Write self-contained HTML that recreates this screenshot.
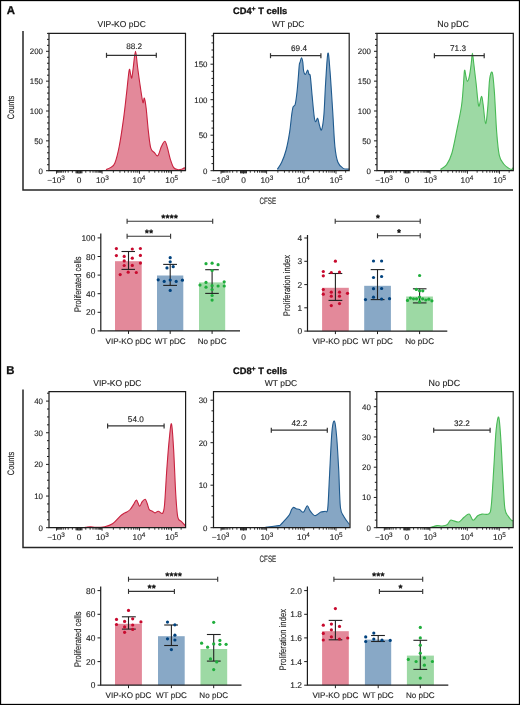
<!DOCTYPE html>
<html><head><meta charset="utf-8"><style>html,body{margin:0;padding:0;background:#fff}svg{display:block;will-change:transform}text{stroke:#222;stroke-width:0.12px;text-rendering:geometricPrecision}text[font-weight=bold]{stroke:#111;stroke-width:0.3px}</style></head>
<body><svg width="520" height="705" viewBox="0 0 520 705" font-family='"Liberation Sans", sans-serif'>
<rect x="0" y="0" width="520" height="705" fill="#fff"/>
<rect x="0.5" y="0.5" width="519" height="704" fill="none" stroke="#000" stroke-width="1.3"/>
<text x="6.8" y="14" font-size="11.4" text-anchor="start" font-weight="bold" fill="#111" >A</text>
<text x="233" y="14.4" font-size="9.3" font-weight="bold" fill="#111">CD4<tspan font-size="7" dy="-3.2">+</tspan><tspan dy="3.2"> T cells</tspan></text>
<path d="M23,31 L23,190 L513,190" fill="none" stroke="#262626" stroke-width="1.5"/>
<text x="0" y="0" font-size="9.4" text-anchor="middle" fill="#222" textLength="23.4" lengthAdjust="spacingAndGlyphs" transform="translate(14.3,107.5) rotate(-90)">Counts</text>
<text x="267.8" y="203.8" font-size="9.2" text-anchor="middle" font-weight="normal" fill="#222" textLength="16.6" lengthAdjust="spacingAndGlyphs" >CFSE</text>
<path d="M106,169.7 C106.73,169.35 108.93,168.68 110.4,167.6 C111.87,166.52 113.33,166.72 114.8,163.2 C116.27,159.68 117.73,153.98 119.2,146.5 C120.67,139.02 122.35,127.38 123.6,118.3 C124.85,109.22 125.77,100.05 126.7,92 C127.63,83.95 128.55,72.93 129.2,70 C129.85,67.07 130.17,73.08 130.6,74.4 C131.03,75.72 131.35,79.08 131.8,77.9 C132.25,76.72 132.68,71.75 133.3,67.3 C133.92,62.85 134.78,51.2 135.5,51.2 C136.22,51.2 136.8,61.38 137.6,67.3 C138.4,73.22 139.42,80.83 140.3,86.7 C141.18,92.57 142.23,100.6 142.9,102.5 C143.57,104.4 143.77,97.22 144.3,98.1 C144.83,98.98 145.4,102.08 146.1,107.8 C146.8,113.52 147.72,125.67 148.5,132.4 C149.28,139.13 149.82,144.83 150.8,148.2 C151.78,151.57 153.22,151.37 154.4,152.6 C155.58,153.83 156.73,156.62 157.9,155.6 C159.07,154.58 160.23,148.9 161.4,146.5 C162.57,144.1 163.88,140.92 164.9,141.2 C165.92,141.48 166.62,145.27 167.5,148.2 C168.38,151.13 169.17,155.57 170.2,158.8 C171.23,162.03 172.38,165.78 173.7,167.6 C175.02,169.42 176.78,169.42 178.1,169.7 C179.42,169.98 180.58,169.6 181.6,169.3 C182.62,169 183.58,168.03 184.2,167.9 C184.82,167.77 185.12,168.4 185.3,168.5 L185.3,170.7 L106,170.7 Z" fill="#e3899a" stroke="none"/>
<path d="M106,169.7 C106.73,169.35 108.93,168.68 110.4,167.6 C111.87,166.52 113.33,166.72 114.8,163.2 C116.27,159.68 117.73,153.98 119.2,146.5 C120.67,139.02 122.35,127.38 123.6,118.3 C124.85,109.22 125.77,100.05 126.7,92 C127.63,83.95 128.55,72.93 129.2,70 C129.85,67.07 130.17,73.08 130.6,74.4 C131.03,75.72 131.35,79.08 131.8,77.9 C132.25,76.72 132.68,71.75 133.3,67.3 C133.92,62.85 134.78,51.2 135.5,51.2 C136.22,51.2 136.8,61.38 137.6,67.3 C138.4,73.22 139.42,80.83 140.3,86.7 C141.18,92.57 142.23,100.6 142.9,102.5 C143.57,104.4 143.77,97.22 144.3,98.1 C144.83,98.98 145.4,102.08 146.1,107.8 C146.8,113.52 147.72,125.67 148.5,132.4 C149.28,139.13 149.82,144.83 150.8,148.2 C151.78,151.57 153.22,151.37 154.4,152.6 C155.58,153.83 156.73,156.62 157.9,155.6 C159.07,154.58 160.23,148.9 161.4,146.5 C162.57,144.1 163.88,140.92 164.9,141.2 C165.92,141.48 166.62,145.27 167.5,148.2 C168.38,151.13 169.17,155.57 170.2,158.8 C171.23,162.03 172.38,165.78 173.7,167.6 C175.02,169.42 176.78,169.42 178.1,169.7 C179.42,169.98 180.58,169.6 181.6,169.3 C182.62,169 183.58,168.03 184.2,167.9 C184.82,167.77 185.12,168.4 185.3,168.5" fill="none" stroke="#c8223f" stroke-width="1.1" stroke-linejoin="round"/>
<path d="M49,170.7 L49,33.3 L185.5,33.3 L185.5,170.7 Z" fill="none" stroke="#1c1c1c" stroke-width="1.2"/>
<line x1="46" y1="170.7" x2="49" y2="170.7" stroke="#1c1c1c" stroke-width="1.0"/>
<text x="43" y="173.5" font-size="7.9" text-anchor="end" font-weight="normal" fill="#222" >0</text>
<line x1="47" y1="164.73" x2="49" y2="164.73" stroke="#1c1c1c" stroke-width="1.0"/>
<line x1="47" y1="158.76" x2="49" y2="158.76" stroke="#1c1c1c" stroke-width="1.0"/>
<line x1="47" y1="152.79" x2="49" y2="152.79" stroke="#1c1c1c" stroke-width="1.0"/>
<line x1="47" y1="146.82" x2="49" y2="146.82" stroke="#1c1c1c" stroke-width="1.0"/>
<line x1="46" y1="140.85" x2="49" y2="140.85" stroke="#1c1c1c" stroke-width="1.0"/>
<text x="43" y="143.65" font-size="7.9" text-anchor="end" font-weight="normal" fill="#222" >50</text>
<line x1="47" y1="134.88" x2="49" y2="134.88" stroke="#1c1c1c" stroke-width="1.0"/>
<line x1="47" y1="128.91" x2="49" y2="128.91" stroke="#1c1c1c" stroke-width="1.0"/>
<line x1="47" y1="122.94" x2="49" y2="122.94" stroke="#1c1c1c" stroke-width="1.0"/>
<line x1="47" y1="116.97" x2="49" y2="116.97" stroke="#1c1c1c" stroke-width="1.0"/>
<line x1="46" y1="111" x2="49" y2="111" stroke="#1c1c1c" stroke-width="1.0"/>
<text x="43" y="113.8" font-size="7.9" text-anchor="end" font-weight="normal" fill="#222" >100</text>
<line x1="47" y1="105.03" x2="49" y2="105.03" stroke="#1c1c1c" stroke-width="1.0"/>
<line x1="47" y1="99.06" x2="49" y2="99.06" stroke="#1c1c1c" stroke-width="1.0"/>
<line x1="47" y1="93.09" x2="49" y2="93.09" stroke="#1c1c1c" stroke-width="1.0"/>
<line x1="47" y1="87.12" x2="49" y2="87.12" stroke="#1c1c1c" stroke-width="1.0"/>
<line x1="46" y1="81.15" x2="49" y2="81.15" stroke="#1c1c1c" stroke-width="1.0"/>
<text x="43" y="83.95" font-size="7.9" text-anchor="end" font-weight="normal" fill="#222" >150</text>
<line x1="47" y1="75.18" x2="49" y2="75.18" stroke="#1c1c1c" stroke-width="1.0"/>
<line x1="47" y1="69.21" x2="49" y2="69.21" stroke="#1c1c1c" stroke-width="1.0"/>
<line x1="47" y1="63.24" x2="49" y2="63.24" stroke="#1c1c1c" stroke-width="1.0"/>
<line x1="47" y1="57.27" x2="49" y2="57.27" stroke="#1c1c1c" stroke-width="1.0"/>
<line x1="46" y1="51.3" x2="49" y2="51.3" stroke="#1c1c1c" stroke-width="1.0"/>
<text x="43" y="54.1" font-size="7.9" text-anchor="end" font-weight="normal" fill="#222" >200</text>
<line x1="47" y1="45.33" x2="49" y2="45.33" stroke="#1c1c1c" stroke-width="1.0"/>
<line x1="47" y1="39.36" x2="49" y2="39.36" stroke="#1c1c1c" stroke-width="1.0"/>
<line x1="47" y1="33.39" x2="49" y2="33.39" stroke="#1c1c1c" stroke-width="1.0"/>
<line x1="56.5" y1="170.7" x2="56.5" y2="173.7" stroke="#1c1c1c" stroke-width="0.9"/>
<line x1="79" y1="170.7" x2="79" y2="173.7" stroke="#1c1c1c" stroke-width="0.9"/>
<line x1="102.1" y1="170.7" x2="102.1" y2="173.7" stroke="#1c1c1c" stroke-width="0.9"/>
<line x1="139.5" y1="170.7" x2="139.5" y2="173.7" stroke="#1c1c1c" stroke-width="0.9"/>
<line x1="171.5" y1="170.7" x2="171.5" y2="173.7" stroke="#1c1c1c" stroke-width="0.9"/>
<line x1="113.36" y1="170.7" x2="113.36" y2="172.7" stroke="#1c1c1c" stroke-width="0.9"/>
<line x1="149.13" y1="170.7" x2="149.13" y2="172.7" stroke="#1c1c1c" stroke-width="0.9"/>
<line x1="119.94" y1="170.7" x2="119.94" y2="172.7" stroke="#1c1c1c" stroke-width="0.9"/>
<line x1="154.77" y1="170.7" x2="154.77" y2="172.7" stroke="#1c1c1c" stroke-width="0.9"/>
<line x1="124.62" y1="170.7" x2="124.62" y2="172.7" stroke="#1c1c1c" stroke-width="0.9"/>
<line x1="158.77" y1="170.7" x2="158.77" y2="172.7" stroke="#1c1c1c" stroke-width="0.9"/>
<line x1="128.24" y1="170.7" x2="128.24" y2="172.7" stroke="#1c1c1c" stroke-width="0.9"/>
<line x1="161.87" y1="170.7" x2="161.87" y2="172.7" stroke="#1c1c1c" stroke-width="0.9"/>
<line x1="131.2" y1="170.7" x2="131.2" y2="172.7" stroke="#1c1c1c" stroke-width="0.9"/>
<line x1="164.4" y1="170.7" x2="164.4" y2="172.7" stroke="#1c1c1c" stroke-width="0.9"/>
<line x1="133.71" y1="170.7" x2="133.71" y2="172.7" stroke="#1c1c1c" stroke-width="0.9"/>
<line x1="166.54" y1="170.7" x2="166.54" y2="172.7" stroke="#1c1c1c" stroke-width="0.9"/>
<line x1="135.88" y1="170.7" x2="135.88" y2="172.7" stroke="#1c1c1c" stroke-width="0.9"/>
<line x1="168.4" y1="170.7" x2="168.4" y2="172.7" stroke="#1c1c1c" stroke-width="0.9"/>
<line x1="137.79" y1="170.7" x2="137.79" y2="172.7" stroke="#1c1c1c" stroke-width="0.9"/>
<line x1="170.04" y1="170.7" x2="170.04" y2="172.7" stroke="#1c1c1c" stroke-width="0.9"/>
<line x1="181.13" y1="170.7" x2="181.13" y2="172.7" stroke="#1c1c1c" stroke-width="0.9"/>
<line x1="85.79" y1="170.7" x2="85.79" y2="172.7" stroke="#1c1c1c" stroke-width="0.9"/>
<line x1="72.39" y1="170.7" x2="72.39" y2="172.7" stroke="#1c1c1c" stroke-width="0.9"/>
<line x1="90.12" y1="170.7" x2="90.12" y2="172.7" stroke="#1c1c1c" stroke-width="0.9"/>
<line x1="68.17" y1="170.7" x2="68.17" y2="172.7" stroke="#1c1c1c" stroke-width="0.9"/>
<line x1="93.01" y1="170.7" x2="93.01" y2="172.7" stroke="#1c1c1c" stroke-width="0.9"/>
<line x1="65.35" y1="170.7" x2="65.35" y2="172.7" stroke="#1c1c1c" stroke-width="0.9"/>
<line x1="95.14" y1="170.7" x2="95.14" y2="172.7" stroke="#1c1c1c" stroke-width="0.9"/>
<line x1="63.28" y1="170.7" x2="63.28" y2="172.7" stroke="#1c1c1c" stroke-width="0.9"/>
<line x1="96.82" y1="170.7" x2="96.82" y2="172.7" stroke="#1c1c1c" stroke-width="0.9"/>
<line x1="61.65" y1="170.7" x2="61.65" y2="172.7" stroke="#1c1c1c" stroke-width="0.9"/>
<line x1="98.2" y1="170.7" x2="98.2" y2="172.7" stroke="#1c1c1c" stroke-width="0.9"/>
<line x1="60.3" y1="170.7" x2="60.3" y2="172.7" stroke="#1c1c1c" stroke-width="0.9"/>
<line x1="99.37" y1="170.7" x2="99.37" y2="172.7" stroke="#1c1c1c" stroke-width="0.9"/>
<line x1="59.16" y1="170.7" x2="59.16" y2="172.7" stroke="#1c1c1c" stroke-width="0.9"/>
<line x1="100.39" y1="170.7" x2="100.39" y2="172.7" stroke="#1c1c1c" stroke-width="0.9"/>
<line x1="58.16" y1="170.7" x2="58.16" y2="172.7" stroke="#1c1c1c" stroke-width="0.9"/>
<line x1="101.29" y1="170.7" x2="101.29" y2="172.7" stroke="#1c1c1c" stroke-width="0.9"/>
<line x1="57.29" y1="170.7" x2="57.29" y2="172.7" stroke="#1c1c1c" stroke-width="0.9"/>
<line x1="76" y1="170.7" x2="76" y2="173.3" stroke="#1c1c1c" stroke-width="0.9"/>
<line x1="76.8" y1="170.7" x2="76.8" y2="173.3" stroke="#1c1c1c" stroke-width="0.9"/>
<line x1="77.5" y1="170.7" x2="77.5" y2="173.3" stroke="#1c1c1c" stroke-width="0.9"/>
<line x1="78.2" y1="170.7" x2="78.2" y2="173.3" stroke="#1c1c1c" stroke-width="0.9"/>
<line x1="79.8" y1="170.7" x2="79.8" y2="173.3" stroke="#1c1c1c" stroke-width="0.9"/>
<line x1="80.5" y1="170.7" x2="80.5" y2="173.3" stroke="#1c1c1c" stroke-width="0.9"/>
<line x1="81.2" y1="170.7" x2="81.2" y2="173.3" stroke="#1c1c1c" stroke-width="0.9"/>
<line x1="82" y1="170.7" x2="82" y2="173.3" stroke="#1c1c1c" stroke-width="0.9"/>
<text x="56" y="183.2" font-size="8.3" text-anchor="middle" fill="#222">−10<tspan font-size="6.4" dy="-3.6" style="stroke-width:0.1px">3</tspan></text>
<text x="79" y="183.2" font-size="8.3" text-anchor="middle" font-weight="normal" fill="#222" >0</text>
<text x="102.3" y="183.2" font-size="8.3" text-anchor="middle" fill="#222">10<tspan font-size="6.4" dy="-3.6" style="stroke-width:0.1px">3</tspan></text>
<text x="139" y="183.2" font-size="8.3" text-anchor="middle" fill="#222">10<tspan font-size="6.4" dy="-3.6" style="stroke-width:0.1px">4</tspan></text>
<text x="171.7" y="183.2" font-size="8.3" text-anchor="middle" fill="#222">10<tspan font-size="6.4" dy="-3.6" style="stroke-width:0.1px">5</tspan></text>
<line x1="106.5" y1="55.3" x2="156.3" y2="55.3" stroke="#333" stroke-width="1.2"/>
<line x1="106.5" y1="52.8" x2="106.5" y2="57.8" stroke="#333" stroke-width="1.2"/>
<line x1="156.3" y1="52.8" x2="156.3" y2="57.8" stroke="#333" stroke-width="1.2"/>
<text x="134.1" y="48.7" font-size="8.2" text-anchor="middle" font-weight="normal" fill="#222" >88.2</text>
<text x="121.7" y="26.9" font-size="8.5" text-anchor="middle" font-weight="normal" fill="#222" >VIP-KO pDC</text>
<path d="M277.3,169.3 C278.03,168.13 280.23,165.52 281.7,162.3 C283.17,159.08 284.78,154.98 286.1,150 C287.42,145.02 288.67,138.27 289.6,132.4 C290.53,126.53 291.12,119.05 291.7,114.8 C292.28,110.55 292.52,108.65 293.1,106.9 C293.68,105.15 294.55,106.78 295.2,104.3 C295.85,101.82 296.47,96.7 297,92 C297.53,87.3 298.02,80.65 298.4,76.1 C298.78,71.55 299.02,67.03 299.3,64.7 C299.58,62.37 299.73,63.27 300.1,62.1 C300.47,60.93 301.05,57.7 301.5,57.7 C301.95,57.7 302.45,59.9 302.8,62.1 C303.15,64.3 303.17,68.85 303.6,70.9 C304.03,72.95 304.72,74.55 305.4,74.4 C306.08,74.25 307.12,70 307.7,70 C308.28,70 308.47,73.38 308.9,74.4 C309.33,75.42 309.77,72.58 310.3,76.1 C310.83,79.62 311.45,88.75 312.1,95.5 C312.75,102.25 313.62,112.22 314.2,116.6 C314.78,120.98 315.02,121.52 315.6,121.8 C316.18,122.08 317.05,117.7 317.7,118.3 C318.35,118.9 318.85,123.48 319.5,125.4 C320.15,127.32 320.87,131.57 321.6,129.8 C322.33,128.03 323.23,122.57 323.9,114.8 C324.57,107.03 324.93,93.45 325.6,83.2 C326.27,72.95 327.17,55.35 327.9,53.3 C328.63,51.25 329.2,61.23 330,70.9 C330.8,80.57 331.88,98.7 332.7,111.3 C333.52,123.9 334.03,138 334.9,146.5 C335.77,155 336.52,158.65 337.9,162.3 C339.28,165.95 341.32,167.28 343.2,168.4 C345.08,169.52 348.2,168.9 349.2,169 L349.2,170.7 L277.3,170.7 Z" fill="#86a6c4" stroke="none"/>
<path d="M277.3,169.3 C278.03,168.13 280.23,165.52 281.7,162.3 C283.17,159.08 284.78,154.98 286.1,150 C287.42,145.02 288.67,138.27 289.6,132.4 C290.53,126.53 291.12,119.05 291.7,114.8 C292.28,110.55 292.52,108.65 293.1,106.9 C293.68,105.15 294.55,106.78 295.2,104.3 C295.85,101.82 296.47,96.7 297,92 C297.53,87.3 298.02,80.65 298.4,76.1 C298.78,71.55 299.02,67.03 299.3,64.7 C299.58,62.37 299.73,63.27 300.1,62.1 C300.47,60.93 301.05,57.7 301.5,57.7 C301.95,57.7 302.45,59.9 302.8,62.1 C303.15,64.3 303.17,68.85 303.6,70.9 C304.03,72.95 304.72,74.55 305.4,74.4 C306.08,74.25 307.12,70 307.7,70 C308.28,70 308.47,73.38 308.9,74.4 C309.33,75.42 309.77,72.58 310.3,76.1 C310.83,79.62 311.45,88.75 312.1,95.5 C312.75,102.25 313.62,112.22 314.2,116.6 C314.78,120.98 315.02,121.52 315.6,121.8 C316.18,122.08 317.05,117.7 317.7,118.3 C318.35,118.9 318.85,123.48 319.5,125.4 C320.15,127.32 320.87,131.57 321.6,129.8 C322.33,128.03 323.23,122.57 323.9,114.8 C324.57,107.03 324.93,93.45 325.6,83.2 C326.27,72.95 327.17,55.35 327.9,53.3 C328.63,51.25 329.2,61.23 330,70.9 C330.8,80.57 331.88,98.7 332.7,111.3 C333.52,123.9 334.03,138 334.9,146.5 C335.77,155 336.52,158.65 337.9,162.3 C339.28,165.95 341.32,167.28 343.2,168.4 C345.08,169.52 348.2,168.9 349.2,169" fill="none" stroke="#1f5a8e" stroke-width="1.1" stroke-linejoin="round"/>
<path d="M213.5,170.7 L213.5,33.3 L349.2,33.3 L349.2,170.7 Z" fill="none" stroke="#1c1c1c" stroke-width="1.2"/>
<line x1="210.5" y1="170.7" x2="213.5" y2="170.7" stroke="#1c1c1c" stroke-width="1.0"/>
<text x="207.5" y="173.5" font-size="7.9" text-anchor="end" font-weight="normal" fill="#222" >0</text>
<line x1="211.5" y1="163.6" x2="213.5" y2="163.6" stroke="#1c1c1c" stroke-width="1.0"/>
<line x1="211.5" y1="156.5" x2="213.5" y2="156.5" stroke="#1c1c1c" stroke-width="1.0"/>
<line x1="211.5" y1="149.4" x2="213.5" y2="149.4" stroke="#1c1c1c" stroke-width="1.0"/>
<line x1="211.5" y1="142.3" x2="213.5" y2="142.3" stroke="#1c1c1c" stroke-width="1.0"/>
<line x1="210.5" y1="135.2" x2="213.5" y2="135.2" stroke="#1c1c1c" stroke-width="1.0"/>
<text x="207.5" y="138" font-size="7.9" text-anchor="end" font-weight="normal" fill="#222" >50</text>
<line x1="211.5" y1="128.1" x2="213.5" y2="128.1" stroke="#1c1c1c" stroke-width="1.0"/>
<line x1="211.5" y1="121" x2="213.5" y2="121" stroke="#1c1c1c" stroke-width="1.0"/>
<line x1="211.5" y1="113.9" x2="213.5" y2="113.9" stroke="#1c1c1c" stroke-width="1.0"/>
<line x1="211.5" y1="106.8" x2="213.5" y2="106.8" stroke="#1c1c1c" stroke-width="1.0"/>
<line x1="210.5" y1="99.7" x2="213.5" y2="99.7" stroke="#1c1c1c" stroke-width="1.0"/>
<text x="207.5" y="102.5" font-size="7.9" text-anchor="end" font-weight="normal" fill="#222" >100</text>
<line x1="211.5" y1="92.6" x2="213.5" y2="92.6" stroke="#1c1c1c" stroke-width="1.0"/>
<line x1="211.5" y1="85.5" x2="213.5" y2="85.5" stroke="#1c1c1c" stroke-width="1.0"/>
<line x1="211.5" y1="78.4" x2="213.5" y2="78.4" stroke="#1c1c1c" stroke-width="1.0"/>
<line x1="211.5" y1="71.3" x2="213.5" y2="71.3" stroke="#1c1c1c" stroke-width="1.0"/>
<line x1="210.5" y1="64.2" x2="213.5" y2="64.2" stroke="#1c1c1c" stroke-width="1.0"/>
<text x="207.5" y="67" font-size="7.9" text-anchor="end" font-weight="normal" fill="#222" >150</text>
<line x1="211.5" y1="57.1" x2="213.5" y2="57.1" stroke="#1c1c1c" stroke-width="1.0"/>
<line x1="211.5" y1="50" x2="213.5" y2="50" stroke="#1c1c1c" stroke-width="1.0"/>
<line x1="211.5" y1="42.9" x2="213.5" y2="42.9" stroke="#1c1c1c" stroke-width="1.0"/>
<line x1="211.5" y1="35.8" x2="213.5" y2="35.8" stroke="#1c1c1c" stroke-width="1.0"/>
<line x1="221" y1="170.7" x2="221" y2="173.7" stroke="#1c1c1c" stroke-width="0.9"/>
<line x1="243.5" y1="170.7" x2="243.5" y2="173.7" stroke="#1c1c1c" stroke-width="0.9"/>
<line x1="266.6" y1="170.7" x2="266.6" y2="173.7" stroke="#1c1c1c" stroke-width="0.9"/>
<line x1="304" y1="170.7" x2="304" y2="173.7" stroke="#1c1c1c" stroke-width="0.9"/>
<line x1="336" y1="170.7" x2="336" y2="173.7" stroke="#1c1c1c" stroke-width="0.9"/>
<line x1="277.86" y1="170.7" x2="277.86" y2="172.7" stroke="#1c1c1c" stroke-width="0.9"/>
<line x1="313.63" y1="170.7" x2="313.63" y2="172.7" stroke="#1c1c1c" stroke-width="0.9"/>
<line x1="284.44" y1="170.7" x2="284.44" y2="172.7" stroke="#1c1c1c" stroke-width="0.9"/>
<line x1="319.27" y1="170.7" x2="319.27" y2="172.7" stroke="#1c1c1c" stroke-width="0.9"/>
<line x1="289.12" y1="170.7" x2="289.12" y2="172.7" stroke="#1c1c1c" stroke-width="0.9"/>
<line x1="323.27" y1="170.7" x2="323.27" y2="172.7" stroke="#1c1c1c" stroke-width="0.9"/>
<line x1="292.74" y1="170.7" x2="292.74" y2="172.7" stroke="#1c1c1c" stroke-width="0.9"/>
<line x1="326.37" y1="170.7" x2="326.37" y2="172.7" stroke="#1c1c1c" stroke-width="0.9"/>
<line x1="295.7" y1="170.7" x2="295.7" y2="172.7" stroke="#1c1c1c" stroke-width="0.9"/>
<line x1="328.9" y1="170.7" x2="328.9" y2="172.7" stroke="#1c1c1c" stroke-width="0.9"/>
<line x1="298.21" y1="170.7" x2="298.21" y2="172.7" stroke="#1c1c1c" stroke-width="0.9"/>
<line x1="331.04" y1="170.7" x2="331.04" y2="172.7" stroke="#1c1c1c" stroke-width="0.9"/>
<line x1="300.38" y1="170.7" x2="300.38" y2="172.7" stroke="#1c1c1c" stroke-width="0.9"/>
<line x1="332.9" y1="170.7" x2="332.9" y2="172.7" stroke="#1c1c1c" stroke-width="0.9"/>
<line x1="302.29" y1="170.7" x2="302.29" y2="172.7" stroke="#1c1c1c" stroke-width="0.9"/>
<line x1="334.54" y1="170.7" x2="334.54" y2="172.7" stroke="#1c1c1c" stroke-width="0.9"/>
<line x1="345.63" y1="170.7" x2="345.63" y2="172.7" stroke="#1c1c1c" stroke-width="0.9"/>
<line x1="250.29" y1="170.7" x2="250.29" y2="172.7" stroke="#1c1c1c" stroke-width="0.9"/>
<line x1="236.89" y1="170.7" x2="236.89" y2="172.7" stroke="#1c1c1c" stroke-width="0.9"/>
<line x1="254.62" y1="170.7" x2="254.62" y2="172.7" stroke="#1c1c1c" stroke-width="0.9"/>
<line x1="232.67" y1="170.7" x2="232.67" y2="172.7" stroke="#1c1c1c" stroke-width="0.9"/>
<line x1="257.51" y1="170.7" x2="257.51" y2="172.7" stroke="#1c1c1c" stroke-width="0.9"/>
<line x1="229.85" y1="170.7" x2="229.85" y2="172.7" stroke="#1c1c1c" stroke-width="0.9"/>
<line x1="259.64" y1="170.7" x2="259.64" y2="172.7" stroke="#1c1c1c" stroke-width="0.9"/>
<line x1="227.78" y1="170.7" x2="227.78" y2="172.7" stroke="#1c1c1c" stroke-width="0.9"/>
<line x1="261.32" y1="170.7" x2="261.32" y2="172.7" stroke="#1c1c1c" stroke-width="0.9"/>
<line x1="226.15" y1="170.7" x2="226.15" y2="172.7" stroke="#1c1c1c" stroke-width="0.9"/>
<line x1="262.7" y1="170.7" x2="262.7" y2="172.7" stroke="#1c1c1c" stroke-width="0.9"/>
<line x1="224.8" y1="170.7" x2="224.8" y2="172.7" stroke="#1c1c1c" stroke-width="0.9"/>
<line x1="263.87" y1="170.7" x2="263.87" y2="172.7" stroke="#1c1c1c" stroke-width="0.9"/>
<line x1="223.66" y1="170.7" x2="223.66" y2="172.7" stroke="#1c1c1c" stroke-width="0.9"/>
<line x1="264.89" y1="170.7" x2="264.89" y2="172.7" stroke="#1c1c1c" stroke-width="0.9"/>
<line x1="222.66" y1="170.7" x2="222.66" y2="172.7" stroke="#1c1c1c" stroke-width="0.9"/>
<line x1="265.79" y1="170.7" x2="265.79" y2="172.7" stroke="#1c1c1c" stroke-width="0.9"/>
<line x1="221.79" y1="170.7" x2="221.79" y2="172.7" stroke="#1c1c1c" stroke-width="0.9"/>
<line x1="240.5" y1="170.7" x2="240.5" y2="173.3" stroke="#1c1c1c" stroke-width="0.9"/>
<line x1="241.3" y1="170.7" x2="241.3" y2="173.3" stroke="#1c1c1c" stroke-width="0.9"/>
<line x1="242" y1="170.7" x2="242" y2="173.3" stroke="#1c1c1c" stroke-width="0.9"/>
<line x1="242.7" y1="170.7" x2="242.7" y2="173.3" stroke="#1c1c1c" stroke-width="0.9"/>
<line x1="244.3" y1="170.7" x2="244.3" y2="173.3" stroke="#1c1c1c" stroke-width="0.9"/>
<line x1="245" y1="170.7" x2="245" y2="173.3" stroke="#1c1c1c" stroke-width="0.9"/>
<line x1="245.7" y1="170.7" x2="245.7" y2="173.3" stroke="#1c1c1c" stroke-width="0.9"/>
<line x1="246.5" y1="170.7" x2="246.5" y2="173.3" stroke="#1c1c1c" stroke-width="0.9"/>
<text x="220.5" y="183.2" font-size="8.3" text-anchor="middle" fill="#222">−10<tspan font-size="6.4" dy="-3.6" style="stroke-width:0.1px">3</tspan></text>
<text x="243.5" y="183.2" font-size="8.3" text-anchor="middle" font-weight="normal" fill="#222" >0</text>
<text x="266.8" y="183.2" font-size="8.3" text-anchor="middle" fill="#222">10<tspan font-size="6.4" dy="-3.6" style="stroke-width:0.1px">3</tspan></text>
<text x="303.5" y="183.2" font-size="8.3" text-anchor="middle" fill="#222">10<tspan font-size="6.4" dy="-3.6" style="stroke-width:0.1px">4</tspan></text>
<text x="336.2" y="183.2" font-size="8.3" text-anchor="middle" fill="#222">10<tspan font-size="6.4" dy="-3.6" style="stroke-width:0.1px">5</tspan></text>
<line x1="270.5" y1="55.7" x2="320.9" y2="55.7" stroke="#333" stroke-width="1.2"/>
<line x1="270.5" y1="53.2" x2="270.5" y2="58.2" stroke="#333" stroke-width="1.2"/>
<line x1="320.9" y1="53.2" x2="320.9" y2="58.2" stroke="#333" stroke-width="1.2"/>
<text x="299" y="51.3" font-size="8.2" text-anchor="middle" font-weight="normal" fill="#222" >69.4</text>
<text x="288.3" y="26.9" font-size="8.5" text-anchor="middle" font-weight="normal" fill="#222" >WT pDC</text>
<path d="M440.4,169.3 C441.42,168.57 444.6,167.53 446.5,164.9 C448.4,162.27 450.03,159.5 451.8,153.5 C453.57,147.5 455.48,136.82 457.1,128.9 C458.72,120.98 460.47,113.03 461.5,106 C462.53,98.97 462.8,92.62 463.3,86.7 C463.8,80.78 464.07,72.27 464.5,70.5 C464.93,68.73 465.43,74.28 465.9,76.1 C466.37,77.92 466.72,81.4 467.3,81.4 C467.88,81.4 468.75,79.03 469.4,76.1 C470.05,73.17 470.7,67.6 471.2,63.8 C471.7,60 471.97,53.3 472.4,53.3 C472.83,53.3 473.18,58.82 473.8,63.8 C474.42,68.78 475.28,76.17 476.1,83.2 C476.92,90.23 477.82,103.8 478.7,106 C479.58,108.2 480.67,96.68 481.4,96.4 C482.13,96.12 482.4,99.77 483.1,104.3 C483.8,108.83 484.8,123.32 485.6,123.6 C486.4,123.88 487.23,113.33 487.9,106 C488.57,98.67 488.87,85.17 489.6,79.6 C490.33,74.03 491.5,70.53 492.3,72.6 C493.1,74.67 493.67,82.03 494.4,92 C495.13,101.97 495.88,121.85 496.7,132.4 C497.52,142.95 498.13,150.03 499.3,155.3 C500.47,160.57 502.08,161.82 503.7,164 C505.32,166.18 507.62,167.52 509,168.4 C510.38,169.28 511.3,169.43 512,169.3 C512.7,169.17 513,167.88 513.2,167.6 L513.2,170.7 L440.4,170.7 Z" fill="#9dd9a4" stroke="none"/>
<path d="M440.4,169.3 C441.42,168.57 444.6,167.53 446.5,164.9 C448.4,162.27 450.03,159.5 451.8,153.5 C453.57,147.5 455.48,136.82 457.1,128.9 C458.72,120.98 460.47,113.03 461.5,106 C462.53,98.97 462.8,92.62 463.3,86.7 C463.8,80.78 464.07,72.27 464.5,70.5 C464.93,68.73 465.43,74.28 465.9,76.1 C466.37,77.92 466.72,81.4 467.3,81.4 C467.88,81.4 468.75,79.03 469.4,76.1 C470.05,73.17 470.7,67.6 471.2,63.8 C471.7,60 471.97,53.3 472.4,53.3 C472.83,53.3 473.18,58.82 473.8,63.8 C474.42,68.78 475.28,76.17 476.1,83.2 C476.92,90.23 477.82,103.8 478.7,106 C479.58,108.2 480.67,96.68 481.4,96.4 C482.13,96.12 482.4,99.77 483.1,104.3 C483.8,108.83 484.8,123.32 485.6,123.6 C486.4,123.88 487.23,113.33 487.9,106 C488.57,98.67 488.87,85.17 489.6,79.6 C490.33,74.03 491.5,70.53 492.3,72.6 C493.1,74.67 493.67,82.03 494.4,92 C495.13,101.97 495.88,121.85 496.7,132.4 C497.52,142.95 498.13,150.03 499.3,155.3 C500.47,160.57 502.08,161.82 503.7,164 C505.32,166.18 507.62,167.52 509,168.4 C510.38,169.28 511.3,169.43 512,169.3 C512.7,169.17 513,167.88 513.2,167.6" fill="none" stroke="#48b955" stroke-width="1.1" stroke-linejoin="round"/>
<path d="M377,170.7 L377,33.3 L513.3,33.3 L513.3,170.7 Z" fill="none" stroke="#1c1c1c" stroke-width="1.2"/>
<line x1="374" y1="170.7" x2="377" y2="170.7" stroke="#1c1c1c" stroke-width="1.0"/>
<text x="371" y="173.5" font-size="7.9" text-anchor="end" font-weight="normal" fill="#222" >0</text>
<line x1="375" y1="164.73" x2="377" y2="164.73" stroke="#1c1c1c" stroke-width="1.0"/>
<line x1="375" y1="158.76" x2="377" y2="158.76" stroke="#1c1c1c" stroke-width="1.0"/>
<line x1="375" y1="152.79" x2="377" y2="152.79" stroke="#1c1c1c" stroke-width="1.0"/>
<line x1="375" y1="146.82" x2="377" y2="146.82" stroke="#1c1c1c" stroke-width="1.0"/>
<line x1="374" y1="140.85" x2="377" y2="140.85" stroke="#1c1c1c" stroke-width="1.0"/>
<text x="371" y="143.65" font-size="7.9" text-anchor="end" font-weight="normal" fill="#222" >50</text>
<line x1="375" y1="134.88" x2="377" y2="134.88" stroke="#1c1c1c" stroke-width="1.0"/>
<line x1="375" y1="128.91" x2="377" y2="128.91" stroke="#1c1c1c" stroke-width="1.0"/>
<line x1="375" y1="122.94" x2="377" y2="122.94" stroke="#1c1c1c" stroke-width="1.0"/>
<line x1="375" y1="116.97" x2="377" y2="116.97" stroke="#1c1c1c" stroke-width="1.0"/>
<line x1="374" y1="111" x2="377" y2="111" stroke="#1c1c1c" stroke-width="1.0"/>
<text x="371" y="113.8" font-size="7.9" text-anchor="end" font-weight="normal" fill="#222" >100</text>
<line x1="375" y1="105.03" x2="377" y2="105.03" stroke="#1c1c1c" stroke-width="1.0"/>
<line x1="375" y1="99.06" x2="377" y2="99.06" stroke="#1c1c1c" stroke-width="1.0"/>
<line x1="375" y1="93.09" x2="377" y2="93.09" stroke="#1c1c1c" stroke-width="1.0"/>
<line x1="375" y1="87.12" x2="377" y2="87.12" stroke="#1c1c1c" stroke-width="1.0"/>
<line x1="374" y1="81.15" x2="377" y2="81.15" stroke="#1c1c1c" stroke-width="1.0"/>
<text x="371" y="83.95" font-size="7.9" text-anchor="end" font-weight="normal" fill="#222" >150</text>
<line x1="375" y1="75.18" x2="377" y2="75.18" stroke="#1c1c1c" stroke-width="1.0"/>
<line x1="375" y1="69.21" x2="377" y2="69.21" stroke="#1c1c1c" stroke-width="1.0"/>
<line x1="375" y1="63.24" x2="377" y2="63.24" stroke="#1c1c1c" stroke-width="1.0"/>
<line x1="375" y1="57.27" x2="377" y2="57.27" stroke="#1c1c1c" stroke-width="1.0"/>
<line x1="374" y1="51.3" x2="377" y2="51.3" stroke="#1c1c1c" stroke-width="1.0"/>
<text x="371" y="54.1" font-size="7.9" text-anchor="end" font-weight="normal" fill="#222" >200</text>
<line x1="375" y1="45.33" x2="377" y2="45.33" stroke="#1c1c1c" stroke-width="1.0"/>
<line x1="375" y1="39.36" x2="377" y2="39.36" stroke="#1c1c1c" stroke-width="1.0"/>
<line x1="375" y1="33.39" x2="377" y2="33.39" stroke="#1c1c1c" stroke-width="1.0"/>
<line x1="384.5" y1="170.7" x2="384.5" y2="173.7" stroke="#1c1c1c" stroke-width="0.9"/>
<line x1="407" y1="170.7" x2="407" y2="173.7" stroke="#1c1c1c" stroke-width="0.9"/>
<line x1="430.1" y1="170.7" x2="430.1" y2="173.7" stroke="#1c1c1c" stroke-width="0.9"/>
<line x1="467.5" y1="170.7" x2="467.5" y2="173.7" stroke="#1c1c1c" stroke-width="0.9"/>
<line x1="499.5" y1="170.7" x2="499.5" y2="173.7" stroke="#1c1c1c" stroke-width="0.9"/>
<line x1="441.36" y1="170.7" x2="441.36" y2="172.7" stroke="#1c1c1c" stroke-width="0.9"/>
<line x1="477.13" y1="170.7" x2="477.13" y2="172.7" stroke="#1c1c1c" stroke-width="0.9"/>
<line x1="447.94" y1="170.7" x2="447.94" y2="172.7" stroke="#1c1c1c" stroke-width="0.9"/>
<line x1="482.77" y1="170.7" x2="482.77" y2="172.7" stroke="#1c1c1c" stroke-width="0.9"/>
<line x1="452.62" y1="170.7" x2="452.62" y2="172.7" stroke="#1c1c1c" stroke-width="0.9"/>
<line x1="486.77" y1="170.7" x2="486.77" y2="172.7" stroke="#1c1c1c" stroke-width="0.9"/>
<line x1="456.24" y1="170.7" x2="456.24" y2="172.7" stroke="#1c1c1c" stroke-width="0.9"/>
<line x1="489.87" y1="170.7" x2="489.87" y2="172.7" stroke="#1c1c1c" stroke-width="0.9"/>
<line x1="459.2" y1="170.7" x2="459.2" y2="172.7" stroke="#1c1c1c" stroke-width="0.9"/>
<line x1="492.4" y1="170.7" x2="492.4" y2="172.7" stroke="#1c1c1c" stroke-width="0.9"/>
<line x1="461.71" y1="170.7" x2="461.71" y2="172.7" stroke="#1c1c1c" stroke-width="0.9"/>
<line x1="494.54" y1="170.7" x2="494.54" y2="172.7" stroke="#1c1c1c" stroke-width="0.9"/>
<line x1="463.88" y1="170.7" x2="463.88" y2="172.7" stroke="#1c1c1c" stroke-width="0.9"/>
<line x1="496.4" y1="170.7" x2="496.4" y2="172.7" stroke="#1c1c1c" stroke-width="0.9"/>
<line x1="465.79" y1="170.7" x2="465.79" y2="172.7" stroke="#1c1c1c" stroke-width="0.9"/>
<line x1="498.04" y1="170.7" x2="498.04" y2="172.7" stroke="#1c1c1c" stroke-width="0.9"/>
<line x1="509.13" y1="170.7" x2="509.13" y2="172.7" stroke="#1c1c1c" stroke-width="0.9"/>
<line x1="413.79" y1="170.7" x2="413.79" y2="172.7" stroke="#1c1c1c" stroke-width="0.9"/>
<line x1="400.39" y1="170.7" x2="400.39" y2="172.7" stroke="#1c1c1c" stroke-width="0.9"/>
<line x1="418.12" y1="170.7" x2="418.12" y2="172.7" stroke="#1c1c1c" stroke-width="0.9"/>
<line x1="396.17" y1="170.7" x2="396.17" y2="172.7" stroke="#1c1c1c" stroke-width="0.9"/>
<line x1="421.01" y1="170.7" x2="421.01" y2="172.7" stroke="#1c1c1c" stroke-width="0.9"/>
<line x1="393.35" y1="170.7" x2="393.35" y2="172.7" stroke="#1c1c1c" stroke-width="0.9"/>
<line x1="423.14" y1="170.7" x2="423.14" y2="172.7" stroke="#1c1c1c" stroke-width="0.9"/>
<line x1="391.28" y1="170.7" x2="391.28" y2="172.7" stroke="#1c1c1c" stroke-width="0.9"/>
<line x1="424.82" y1="170.7" x2="424.82" y2="172.7" stroke="#1c1c1c" stroke-width="0.9"/>
<line x1="389.65" y1="170.7" x2="389.65" y2="172.7" stroke="#1c1c1c" stroke-width="0.9"/>
<line x1="426.2" y1="170.7" x2="426.2" y2="172.7" stroke="#1c1c1c" stroke-width="0.9"/>
<line x1="388.3" y1="170.7" x2="388.3" y2="172.7" stroke="#1c1c1c" stroke-width="0.9"/>
<line x1="427.37" y1="170.7" x2="427.37" y2="172.7" stroke="#1c1c1c" stroke-width="0.9"/>
<line x1="387.16" y1="170.7" x2="387.16" y2="172.7" stroke="#1c1c1c" stroke-width="0.9"/>
<line x1="428.39" y1="170.7" x2="428.39" y2="172.7" stroke="#1c1c1c" stroke-width="0.9"/>
<line x1="386.16" y1="170.7" x2="386.16" y2="172.7" stroke="#1c1c1c" stroke-width="0.9"/>
<line x1="429.29" y1="170.7" x2="429.29" y2="172.7" stroke="#1c1c1c" stroke-width="0.9"/>
<line x1="385.29" y1="170.7" x2="385.29" y2="172.7" stroke="#1c1c1c" stroke-width="0.9"/>
<line x1="404" y1="170.7" x2="404" y2="173.3" stroke="#1c1c1c" stroke-width="0.9"/>
<line x1="404.8" y1="170.7" x2="404.8" y2="173.3" stroke="#1c1c1c" stroke-width="0.9"/>
<line x1="405.5" y1="170.7" x2="405.5" y2="173.3" stroke="#1c1c1c" stroke-width="0.9"/>
<line x1="406.2" y1="170.7" x2="406.2" y2="173.3" stroke="#1c1c1c" stroke-width="0.9"/>
<line x1="407.8" y1="170.7" x2="407.8" y2="173.3" stroke="#1c1c1c" stroke-width="0.9"/>
<line x1="408.5" y1="170.7" x2="408.5" y2="173.3" stroke="#1c1c1c" stroke-width="0.9"/>
<line x1="409.2" y1="170.7" x2="409.2" y2="173.3" stroke="#1c1c1c" stroke-width="0.9"/>
<line x1="410" y1="170.7" x2="410" y2="173.3" stroke="#1c1c1c" stroke-width="0.9"/>
<text x="384" y="183.2" font-size="8.3" text-anchor="middle" fill="#222">−10<tspan font-size="6.4" dy="-3.6" style="stroke-width:0.1px">3</tspan></text>
<text x="407" y="183.2" font-size="8.3" text-anchor="middle" font-weight="normal" fill="#222" >0</text>
<text x="430.3" y="183.2" font-size="8.3" text-anchor="middle" fill="#222">10<tspan font-size="6.4" dy="-3.6" style="stroke-width:0.1px">3</tspan></text>
<text x="467" y="183.2" font-size="8.3" text-anchor="middle" fill="#222">10<tspan font-size="6.4" dy="-3.6" style="stroke-width:0.1px">4</tspan></text>
<text x="499.7" y="183.2" font-size="8.3" text-anchor="middle" fill="#222">10<tspan font-size="6.4" dy="-3.6" style="stroke-width:0.1px">5</tspan></text>
<line x1="434.4" y1="55.7" x2="484.2" y2="55.7" stroke="#333" stroke-width="1.2"/>
<line x1="434.4" y1="53.2" x2="434.4" y2="58.2" stroke="#333" stroke-width="1.2"/>
<line x1="484.2" y1="53.2" x2="484.2" y2="58.2" stroke="#333" stroke-width="1.2"/>
<text x="458" y="51.3" font-size="8.2" text-anchor="middle" font-weight="normal" fill="#222" >71.3</text>
<text x="453.1" y="26.9" font-size="8.9" text-anchor="middle" font-weight="normal" fill="#222" >No pDC</text>
<rect x="115" y="261.2" width="26.7" height="69.7" fill="#e3899a"/>
<rect x="157" y="275.5" width="26.3" height="55.4" fill="#88a8c6"/>
<rect x="199" y="282.4" width="26.2" height="48.5" fill="#9dd9a4"/>
<line x1="128.5" y1="251.5" x2="128.5" y2="269.4" stroke="#222" stroke-width="1.1"/>
<line x1="121.5" y1="251.5" x2="135" y2="251.5" stroke="#222" stroke-width="1.1"/>
<line x1="121.5" y1="269.4" x2="135" y2="269.4" stroke="#222" stroke-width="1.1"/>
<circle cx="116.4" cy="248.6" r="1.6" fill="#c80a2e"/>
<circle cx="132.3" cy="249" r="1.6" fill="#c80a2e"/>
<circle cx="140.4" cy="248.5" r="1.6" fill="#c80a2e"/>
<circle cx="116.4" cy="255.6" r="1.6" fill="#c80a2e"/>
<circle cx="124.2" cy="256.4" r="1.6" fill="#c80a2e"/>
<circle cx="140.4" cy="255.4" r="1.6" fill="#c80a2e"/>
<circle cx="132.3" cy="258.2" r="1.6" fill="#c80a2e"/>
<circle cx="124.2" cy="260.9" r="1.6" fill="#c80a2e"/>
<circle cx="140.4" cy="263.1" r="1.6" fill="#c80a2e"/>
<circle cx="124.2" cy="265.5" r="1.6" fill="#c80a2e"/>
<circle cx="132.3" cy="265.4" r="1.6" fill="#c80a2e"/>
<circle cx="128.2" cy="272.2" r="1.6" fill="#c80a2e"/>
<circle cx="136.3" cy="272.5" r="1.6" fill="#c80a2e"/>
<circle cx="120.2" cy="274.6" r="1.6" fill="#c80a2e"/>
<line x1="170.2" y1="264.4" x2="170.2" y2="285.4" stroke="#222" stroke-width="1.1"/>
<line x1="163.2" y1="264.4" x2="177" y2="264.4" stroke="#222" stroke-width="1.1"/>
<line x1="163.2" y1="285.4" x2="177" y2="285.4" stroke="#222" stroke-width="1.1"/>
<circle cx="170.2" cy="257.7" r="1.6" fill="#00427e"/>
<circle cx="170.2" cy="261.8" r="1.6" fill="#00427e"/>
<circle cx="167" cy="267.9" r="1.6" fill="#00427e"/>
<circle cx="173.2" cy="266.7" r="1.6" fill="#00427e"/>
<circle cx="158.2" cy="279.8" r="1.6" fill="#00427e"/>
<circle cx="164.2" cy="281.4" r="1.6" fill="#00427e"/>
<circle cx="170.2" cy="280" r="1.6" fill="#00427e"/>
<circle cx="176.2" cy="281.4" r="1.6" fill="#00427e"/>
<circle cx="182.4" cy="280.2" r="1.6" fill="#00427e"/>
<circle cx="170.2" cy="290.4" r="1.6" fill="#00427e"/>
<line x1="212.1" y1="269.7" x2="212.1" y2="293.4" stroke="#222" stroke-width="1.1"/>
<line x1="205.2" y1="269.7" x2="218.8" y2="269.7" stroke="#222" stroke-width="1.1"/>
<line x1="205.2" y1="293.4" x2="218.8" y2="293.4" stroke="#222" stroke-width="1.1"/>
<circle cx="206" cy="263.7" r="1.6" fill="#1fae3c"/>
<circle cx="212.1" cy="263.2" r="1.6" fill="#1fae3c"/>
<circle cx="218.1" cy="264.7" r="1.6" fill="#1fae3c"/>
<circle cx="212.1" cy="270.5" r="1.6" fill="#1fae3c"/>
<circle cx="206" cy="282.4" r="1.6" fill="#1fae3c"/>
<circle cx="224.2" cy="281.8" r="1.6" fill="#1fae3c"/>
<circle cx="200" cy="285.1" r="1.6" fill="#1fae3c"/>
<circle cx="206" cy="287.2" r="1.6" fill="#1fae3c"/>
<circle cx="212.1" cy="285.7" r="1.6" fill="#1fae3c"/>
<circle cx="218.1" cy="286" r="1.6" fill="#1fae3c"/>
<circle cx="224.2" cy="286" r="1.6" fill="#1fae3c"/>
<circle cx="212.1" cy="289.5" r="1.6" fill="#1fae3c"/>
<circle cx="212.1" cy="295.5" r="1.6" fill="#1fae3c"/>
<circle cx="212.1" cy="300.1" r="1.6" fill="#1fae3c"/>
<path d="M100.8,233.5 L100.8,330.9 L240,330.9" fill="none" stroke="#1c1c1c" stroke-width="1.2"/>
<line x1="97.6" y1="330.9" x2="100.8" y2="330.9" stroke="#1c1c1c" stroke-width="1.0"/>
<text x="95.4" y="333.9" font-size="8.4" text-anchor="end" font-weight="normal" fill="#222" >0</text>
<line x1="97.6" y1="312.3" x2="100.8" y2="312.3" stroke="#1c1c1c" stroke-width="1.0"/>
<text x="95.4" y="315.3" font-size="8.4" text-anchor="end" font-weight="normal" fill="#222" >20</text>
<line x1="97.6" y1="293.7" x2="100.8" y2="293.7" stroke="#1c1c1c" stroke-width="1.0"/>
<text x="95.4" y="296.7" font-size="8.4" text-anchor="end" font-weight="normal" fill="#222" >40</text>
<line x1="97.6" y1="275.1" x2="100.8" y2="275.1" stroke="#1c1c1c" stroke-width="1.0"/>
<text x="95.4" y="278.1" font-size="8.4" text-anchor="end" font-weight="normal" fill="#222" >60</text>
<line x1="97.6" y1="256.5" x2="100.8" y2="256.5" stroke="#1c1c1c" stroke-width="1.0"/>
<text x="95.4" y="259.5" font-size="8.4" text-anchor="end" font-weight="normal" fill="#222" >80</text>
<line x1="97.6" y1="237.9" x2="100.8" y2="237.9" stroke="#1c1c1c" stroke-width="1.0"/>
<text x="95.4" y="240.9" font-size="8.4" text-anchor="end" font-weight="normal" fill="#222" >100</text>
<line x1="128.5" y1="330.9" x2="128.5" y2="333.9" stroke="#1c1c1c" stroke-width="1.0"/>
<line x1="170.2" y1="330.9" x2="170.2" y2="333.9" stroke="#1c1c1c" stroke-width="1.0"/>
<line x1="212.1" y1="330.9" x2="212.1" y2="333.9" stroke="#1c1c1c" stroke-width="1.0"/>
<text x="128.5" y="343.9" font-size="8.1" text-anchor="middle" font-weight="normal" fill="#222" >VIP-KO pDC</text>
<text x="170.2" y="343.9" font-size="8.1" text-anchor="middle" font-weight="normal" fill="#222" >WT pDC</text>
<text x="212.1" y="343.9" font-size="8.1" text-anchor="middle" font-weight="normal" fill="#222" >No pDC</text>
<line x1="127.1" y1="221.3" x2="212.7" y2="221.3" stroke="#333" stroke-width="1.1"/>
<line x1="127.1" y1="218.8" x2="127.1" y2="223.8" stroke="#333" stroke-width="1.1"/>
<line x1="212.7" y1="218.8" x2="212.7" y2="223.8" stroke="#333" stroke-width="1.1"/>
<path d="M163.3,214.55 L163.9,215.77 L165.25,215.97 L164.27,216.92 L164.5,218.26 L163.3,217.63 L162.1,218.26 L162.33,216.92 L161.35,215.97 L162.7,215.77 Z" fill="#1a1a1a" stroke="#1a1a1a" stroke-width="0.6" stroke-linejoin="round"/>
<path d="M167.5,214.55 L168.1,215.77 L169.45,215.97 L168.47,216.92 L168.7,218.26 L167.5,217.63 L166.3,218.26 L166.53,216.92 L165.55,215.97 L166.9,215.77 Z" fill="#1a1a1a" stroke="#1a1a1a" stroke-width="0.6" stroke-linejoin="round"/>
<path d="M171.7,214.55 L172.3,215.77 L173.65,215.97 L172.67,216.92 L172.9,218.26 L171.7,217.63 L170.5,218.26 L170.73,216.92 L169.75,215.97 L171.1,215.77 Z" fill="#1a1a1a" stroke="#1a1a1a" stroke-width="0.6" stroke-linejoin="round"/>
<path d="M175.9,214.55 L176.5,215.77 L177.85,215.97 L176.87,216.92 L177.1,218.26 L175.9,217.63 L174.7,218.26 L174.93,216.92 L173.95,215.97 L175.3,215.77 Z" fill="#1a1a1a" stroke="#1a1a1a" stroke-width="0.6" stroke-linejoin="round"/>
<line x1="127.1" y1="236.2" x2="170.6" y2="236.2" stroke="#333" stroke-width="1.1"/>
<line x1="127.1" y1="233.7" x2="127.1" y2="238.7" stroke="#333" stroke-width="1.1"/>
<line x1="170.6" y1="233.7" x2="170.6" y2="238.7" stroke="#333" stroke-width="1.1"/>
<path d="M146.9,229.45 L147.5,230.67 L148.85,230.87 L147.87,231.82 L148.1,233.16 L146.9,232.53 L145.7,233.16 L145.93,231.82 L144.95,230.87 L146.3,230.67 Z" fill="#1a1a1a" stroke="#1a1a1a" stroke-width="0.6" stroke-linejoin="round"/>
<path d="M151.1,229.45 L151.7,230.67 L153.05,230.87 L152.07,231.82 L152.3,233.16 L151.1,232.53 L149.9,233.16 L150.13,231.82 L149.15,230.87 L150.5,230.67 Z" fill="#1a1a1a" stroke="#1a1a1a" stroke-width="0.6" stroke-linejoin="round"/>
<text x="0" y="0" font-size="9.5" text-anchor="middle" fill="#222" textLength="55.4" lengthAdjust="spacingAndGlyphs" transform="translate(81.2,284.2) rotate(-90)">Proliferated cells</text>
<rect x="322.1" y="287.8" width="26.7" height="43.3" fill="#e3899a"/>
<rect x="364.2" y="285.8" width="26.7" height="45.3" fill="#88a8c6"/>
<rect x="406.2" y="296.5" width="26.7" height="34.6" fill="#9dd9a4"/>
<line x1="335.4" y1="273.5" x2="335.4" y2="300.4" stroke="#222" stroke-width="1.1"/>
<line x1="328.5" y1="273.5" x2="342.3" y2="273.5" stroke="#222" stroke-width="1.1"/>
<line x1="328.5" y1="300.4" x2="342.3" y2="300.4" stroke="#222" stroke-width="1.1"/>
<circle cx="335.4" cy="261.2" r="1.6" fill="#c80a2e"/>
<circle cx="323.3" cy="271.5" r="1.6" fill="#c80a2e"/>
<circle cx="323.3" cy="275.8" r="1.6" fill="#c80a2e"/>
<circle cx="331.3" cy="272.5" r="1.6" fill="#c80a2e"/>
<circle cx="339.5" cy="272.1" r="1.6" fill="#c80a2e"/>
<circle cx="323.3" cy="289.5" r="1.6" fill="#c80a2e"/>
<circle cx="323.3" cy="294.2" r="1.6" fill="#c80a2e"/>
<circle cx="331.3" cy="292.2" r="1.6" fill="#c80a2e"/>
<circle cx="331.3" cy="296.2" r="1.6" fill="#c80a2e"/>
<circle cx="339.5" cy="292.2" r="1.6" fill="#c80a2e"/>
<circle cx="339.5" cy="296.2" r="1.6" fill="#c80a2e"/>
<circle cx="347.5" cy="293.3" r="1.6" fill="#c80a2e"/>
<circle cx="339.5" cy="303.6" r="1.6" fill="#c80a2e"/>
<circle cx="331.3" cy="305.6" r="1.6" fill="#c80a2e"/>
<line x1="377.5" y1="269.6" x2="377.5" y2="299.6" stroke="#222" stroke-width="1.1"/>
<line x1="370.7" y1="269.6" x2="384.5" y2="269.6" stroke="#222" stroke-width="1.1"/>
<line x1="370.7" y1="299.6" x2="384.5" y2="299.6" stroke="#222" stroke-width="1.1"/>
<circle cx="373.5" cy="261" r="1.6" fill="#00427e"/>
<circle cx="381.6" cy="261" r="1.6" fill="#00427e"/>
<circle cx="373.5" cy="277.5" r="1.6" fill="#00427e"/>
<circle cx="381.6" cy="276.5" r="1.6" fill="#00427e"/>
<circle cx="373.5" cy="288.7" r="1.6" fill="#00427e"/>
<circle cx="381.6" cy="288.5" r="1.6" fill="#00427e"/>
<circle cx="373.5" cy="297.2" r="1.6" fill="#00427e"/>
<circle cx="381.6" cy="299" r="1.6" fill="#00427e"/>
<circle cx="365.5" cy="299.6" r="1.6" fill="#00427e"/>
<circle cx="389.5" cy="298.7" r="1.6" fill="#00427e"/>
<line x1="419.6" y1="288.8" x2="419.6" y2="302.9" stroke="#222" stroke-width="1.1"/>
<line x1="412.9" y1="288.8" x2="426.5" y2="288.8" stroke="#222" stroke-width="1.1"/>
<line x1="412.9" y1="302.9" x2="426.5" y2="302.9" stroke="#222" stroke-width="1.1"/>
<circle cx="419.6" cy="275.5" r="1.6" fill="#1fae3c"/>
<circle cx="416.3" cy="289.4" r="1.6" fill="#1fae3c"/>
<circle cx="419.6" cy="290.8" r="1.6" fill="#1fae3c"/>
<circle cx="422.8" cy="290.8" r="1.6" fill="#1fae3c"/>
<circle cx="419.6" cy="297.1" r="1.6" fill="#1fae3c"/>
<circle cx="410.4" cy="298.1" r="1.6" fill="#1fae3c"/>
<circle cx="413.5" cy="298.8" r="1.6" fill="#1fae3c"/>
<circle cx="416.5" cy="298.8" r="1.6" fill="#1fae3c"/>
<circle cx="422.7" cy="298.8" r="1.6" fill="#1fae3c"/>
<circle cx="425.8" cy="300" r="1.6" fill="#1fae3c"/>
<circle cx="428.8" cy="299.2" r="1.6" fill="#1fae3c"/>
<circle cx="407.5" cy="300.4" r="1.6" fill="#1fae3c"/>
<circle cx="431.9" cy="300.8" r="1.6" fill="#1fae3c"/>
<circle cx="419.6" cy="301.9" r="1.6" fill="#1fae3c"/>
<path d="M307.5,234.9 L307.5,331.1 L447.3,331.1" fill="none" stroke="#1c1c1c" stroke-width="1.2"/>
<line x1="304.3" y1="331.1" x2="307.5" y2="331.1" stroke="#1c1c1c" stroke-width="1.0"/>
<text x="302.1" y="334.1" font-size="8.4" text-anchor="end" font-weight="normal" fill="#222" >0</text>
<line x1="304.3" y1="307.8" x2="307.5" y2="307.8" stroke="#1c1c1c" stroke-width="1.0"/>
<text x="302.1" y="310.8" font-size="8.4" text-anchor="end" font-weight="normal" fill="#222" >1</text>
<line x1="304.3" y1="284.6" x2="307.5" y2="284.6" stroke="#1c1c1c" stroke-width="1.0"/>
<text x="302.1" y="287.6" font-size="8.4" text-anchor="end" font-weight="normal" fill="#222" >2</text>
<line x1="304.3" y1="261.3" x2="307.5" y2="261.3" stroke="#1c1c1c" stroke-width="1.0"/>
<text x="302.1" y="264.3" font-size="8.4" text-anchor="end" font-weight="normal" fill="#222" >3</text>
<line x1="304.3" y1="238" x2="307.5" y2="238" stroke="#1c1c1c" stroke-width="1.0"/>
<text x="302.1" y="241" font-size="8.4" text-anchor="end" font-weight="normal" fill="#222" >4</text>
<line x1="335.4" y1="331.1" x2="335.4" y2="334.1" stroke="#1c1c1c" stroke-width="1.0"/>
<line x1="377.5" y1="331.1" x2="377.5" y2="334.1" stroke="#1c1c1c" stroke-width="1.0"/>
<line x1="419.6" y1="331.1" x2="419.6" y2="334.1" stroke="#1c1c1c" stroke-width="1.0"/>
<text x="335.4" y="344.1" font-size="8.1" text-anchor="middle" font-weight="normal" fill="#222" >VIP-KO pDC</text>
<text x="377.5" y="344.1" font-size="8.1" text-anchor="middle" font-weight="normal" fill="#222" >WT pDC</text>
<text x="419.6" y="344.1" font-size="8.1" text-anchor="middle" font-weight="normal" fill="#222" >No pDC</text>
<line x1="335.2" y1="221.3" x2="420.2" y2="221.3" stroke="#333" stroke-width="1.1"/>
<line x1="335.2" y1="218.8" x2="335.2" y2="223.8" stroke="#333" stroke-width="1.1"/>
<line x1="420.2" y1="218.8" x2="420.2" y2="223.8" stroke="#333" stroke-width="1.1"/>
<path d="M377.9,214.55 L378.5,215.77 L379.85,215.97 L378.87,216.92 L379.1,218.26 L377.9,217.63 L376.7,218.26 L376.93,216.92 L375.95,215.97 L377.3,215.77 Z" fill="#1a1a1a" stroke="#1a1a1a" stroke-width="0.6" stroke-linejoin="round"/>
<line x1="377.5" y1="235.8" x2="420.2" y2="235.8" stroke="#333" stroke-width="1.1"/>
<line x1="377.5" y1="233.3" x2="377.5" y2="238.3" stroke="#333" stroke-width="1.1"/>
<line x1="420.2" y1="233.3" x2="420.2" y2="238.3" stroke="#333" stroke-width="1.1"/>
<path d="M399,229.05 L399.6,230.27 L400.95,230.47 L399.97,231.42 L400.2,232.76 L399,232.13 L397.8,232.76 L398.03,231.42 L397.05,230.47 L398.4,230.27 Z" fill="#1a1a1a" stroke="#1a1a1a" stroke-width="0.6" stroke-linejoin="round"/>
<text x="0" y="0" font-size="9.5" text-anchor="middle" fill="#222" textLength="61.4" lengthAdjust="spacingAndGlyphs" transform="translate(290.3,285.5) rotate(-90)">Proliferation index</text>
<text x="6.3" y="373.6" font-size="11.4" text-anchor="start" font-weight="bold" fill="#111" >B</text>
<text x="233" y="373.8" font-size="9.3" font-weight="bold" fill="#111">CD8<tspan font-size="7" dy="-3.2">+</tspan><tspan dy="3.2"> T cells</tspan></text>
<path d="M23,389.6 L23,547.6 L513,547.6" fill="none" stroke="#262626" stroke-width="1.5"/>
<text x="0" y="0" font-size="9.4" text-anchor="middle" fill="#222" textLength="23.4" lengthAdjust="spacingAndGlyphs" transform="translate(14.3,463.5) rotate(-90)">Counts</text>
<text x="267.9" y="561.7" font-size="9.2" text-anchor="middle" font-weight="normal" fill="#222" textLength="16.6" lengthAdjust="spacingAndGlyphs" >CFSE</text>
<path d="M84,527.6 C84.33,527.57 84.92,527.55 86,527.4 C87.08,527.25 88.83,526.7 90.5,526.7 C92.17,526.7 93.62,527.4 96,527.4 C98.38,527.4 102.05,527.3 104.8,526.7 C107.55,526.1 109.97,525.53 112.5,523.8 C115.03,522.07 118.18,517.98 120,516.3 C121.82,514.62 122.27,514.42 123.4,513.7 C124.53,512.98 125.67,512.7 126.8,512 C127.93,511.3 129.07,510.77 130.2,509.5 C131.33,508.23 132.55,505.97 133.6,504.4 C134.65,502.83 135.5,499.82 136.5,500.1 C137.5,500.38 138.67,505.82 139.6,506.1 C140.53,506.38 141.17,502.93 142.1,501.8 C143.03,500.67 144.35,499.02 145.2,499.3 C146.05,499.58 146.53,501.8 147.2,503.5 C147.87,505.2 148.35,508.22 149.2,509.5 C150.05,510.78 151.35,510.63 152.3,511.2 C153.25,511.77 153.9,512.9 154.9,512.9 C155.9,512.9 157.03,511.12 158.3,511.2 C159.57,511.28 161.47,514.4 162.5,513.4 C163.53,512.4 163.78,512.52 164.5,505.2 C165.22,497.88 166,480.55 166.8,469.5 C167.6,458.45 168.52,446.5 169.3,438.9 C170.08,431.3 170.78,422.2 171.5,423.9 C172.22,425.6 172.88,437.25 173.6,449.1 C174.32,460.95 175.1,483.67 175.8,495 C176.5,506.33 176.9,512.7 177.8,517.1 C178.7,521.5 179.95,519.98 181.2,521.4 C182.45,522.82 184.62,524.9 185.3,525.6 L185.3,527.7 L84,527.7 Z" fill="#e3899a" stroke="none"/>
<path d="M84,527.6 C84.33,527.57 84.92,527.55 86,527.4 C87.08,527.25 88.83,526.7 90.5,526.7 C92.17,526.7 93.62,527.4 96,527.4 C98.38,527.4 102.05,527.3 104.8,526.7 C107.55,526.1 109.97,525.53 112.5,523.8 C115.03,522.07 118.18,517.98 120,516.3 C121.82,514.62 122.27,514.42 123.4,513.7 C124.53,512.98 125.67,512.7 126.8,512 C127.93,511.3 129.07,510.77 130.2,509.5 C131.33,508.23 132.55,505.97 133.6,504.4 C134.65,502.83 135.5,499.82 136.5,500.1 C137.5,500.38 138.67,505.82 139.6,506.1 C140.53,506.38 141.17,502.93 142.1,501.8 C143.03,500.67 144.35,499.02 145.2,499.3 C146.05,499.58 146.53,501.8 147.2,503.5 C147.87,505.2 148.35,508.22 149.2,509.5 C150.05,510.78 151.35,510.63 152.3,511.2 C153.25,511.77 153.9,512.9 154.9,512.9 C155.9,512.9 157.03,511.12 158.3,511.2 C159.57,511.28 161.47,514.4 162.5,513.4 C163.53,512.4 163.78,512.52 164.5,505.2 C165.22,497.88 166,480.55 166.8,469.5 C167.6,458.45 168.52,446.5 169.3,438.9 C170.08,431.3 170.78,422.2 171.5,423.9 C172.22,425.6 172.88,437.25 173.6,449.1 C174.32,460.95 175.1,483.67 175.8,495 C176.5,506.33 176.9,512.7 177.8,517.1 C178.7,521.5 179.95,519.98 181.2,521.4 C182.45,522.82 184.62,524.9 185.3,525.6" fill="none" stroke="#c8223f" stroke-width="1.1" stroke-linejoin="round"/>
<path d="M49,527.7 L49,391.6 L185.6,391.6 L185.6,527.7 Z" fill="none" stroke="#1c1c1c" stroke-width="1.2"/>
<line x1="46" y1="527.7" x2="49" y2="527.7" stroke="#1c1c1c" stroke-width="1.0"/>
<text x="43" y="530.5" font-size="7.9" text-anchor="end" font-weight="normal" fill="#222" >0</text>
<line x1="47" y1="519.79" x2="49" y2="519.79" stroke="#1c1c1c" stroke-width="1.0"/>
<line x1="47" y1="511.88" x2="49" y2="511.88" stroke="#1c1c1c" stroke-width="1.0"/>
<line x1="47" y1="503.96" x2="49" y2="503.96" stroke="#1c1c1c" stroke-width="1.0"/>
<line x1="46" y1="496.05" x2="49" y2="496.05" stroke="#1c1c1c" stroke-width="1.0"/>
<text x="43" y="498.85" font-size="7.9" text-anchor="end" font-weight="normal" fill="#222" >10</text>
<line x1="47" y1="488.14" x2="49" y2="488.14" stroke="#1c1c1c" stroke-width="1.0"/>
<line x1="47" y1="480.23" x2="49" y2="480.23" stroke="#1c1c1c" stroke-width="1.0"/>
<line x1="47" y1="472.31" x2="49" y2="472.31" stroke="#1c1c1c" stroke-width="1.0"/>
<line x1="46" y1="464.4" x2="49" y2="464.4" stroke="#1c1c1c" stroke-width="1.0"/>
<text x="43" y="467.2" font-size="7.9" text-anchor="end" font-weight="normal" fill="#222" >20</text>
<line x1="47" y1="456.49" x2="49" y2="456.49" stroke="#1c1c1c" stroke-width="1.0"/>
<line x1="47" y1="448.58" x2="49" y2="448.58" stroke="#1c1c1c" stroke-width="1.0"/>
<line x1="47" y1="440.66" x2="49" y2="440.66" stroke="#1c1c1c" stroke-width="1.0"/>
<line x1="46" y1="432.75" x2="49" y2="432.75" stroke="#1c1c1c" stroke-width="1.0"/>
<text x="43" y="435.55" font-size="7.9" text-anchor="end" font-weight="normal" fill="#222" >30</text>
<line x1="47" y1="424.84" x2="49" y2="424.84" stroke="#1c1c1c" stroke-width="1.0"/>
<line x1="47" y1="416.93" x2="49" y2="416.93" stroke="#1c1c1c" stroke-width="1.0"/>
<line x1="47" y1="409.01" x2="49" y2="409.01" stroke="#1c1c1c" stroke-width="1.0"/>
<line x1="46" y1="401.1" x2="49" y2="401.1" stroke="#1c1c1c" stroke-width="1.0"/>
<text x="43" y="403.9" font-size="7.9" text-anchor="end" font-weight="normal" fill="#222" >40</text>
<line x1="47" y1="393.19" x2="49" y2="393.19" stroke="#1c1c1c" stroke-width="1.0"/>
<line x1="56.5" y1="527.7" x2="56.5" y2="530.7" stroke="#1c1c1c" stroke-width="0.9"/>
<line x1="79" y1="527.7" x2="79" y2="530.7" stroke="#1c1c1c" stroke-width="0.9"/>
<line x1="102.1" y1="527.7" x2="102.1" y2="530.7" stroke="#1c1c1c" stroke-width="0.9"/>
<line x1="139.5" y1="527.7" x2="139.5" y2="530.7" stroke="#1c1c1c" stroke-width="0.9"/>
<line x1="171.5" y1="527.7" x2="171.5" y2="530.7" stroke="#1c1c1c" stroke-width="0.9"/>
<line x1="113.36" y1="527.7" x2="113.36" y2="529.7" stroke="#1c1c1c" stroke-width="0.9"/>
<line x1="149.13" y1="527.7" x2="149.13" y2="529.7" stroke="#1c1c1c" stroke-width="0.9"/>
<line x1="119.94" y1="527.7" x2="119.94" y2="529.7" stroke="#1c1c1c" stroke-width="0.9"/>
<line x1="154.77" y1="527.7" x2="154.77" y2="529.7" stroke="#1c1c1c" stroke-width="0.9"/>
<line x1="124.62" y1="527.7" x2="124.62" y2="529.7" stroke="#1c1c1c" stroke-width="0.9"/>
<line x1="158.77" y1="527.7" x2="158.77" y2="529.7" stroke="#1c1c1c" stroke-width="0.9"/>
<line x1="128.24" y1="527.7" x2="128.24" y2="529.7" stroke="#1c1c1c" stroke-width="0.9"/>
<line x1="161.87" y1="527.7" x2="161.87" y2="529.7" stroke="#1c1c1c" stroke-width="0.9"/>
<line x1="131.2" y1="527.7" x2="131.2" y2="529.7" stroke="#1c1c1c" stroke-width="0.9"/>
<line x1="164.4" y1="527.7" x2="164.4" y2="529.7" stroke="#1c1c1c" stroke-width="0.9"/>
<line x1="133.71" y1="527.7" x2="133.71" y2="529.7" stroke="#1c1c1c" stroke-width="0.9"/>
<line x1="166.54" y1="527.7" x2="166.54" y2="529.7" stroke="#1c1c1c" stroke-width="0.9"/>
<line x1="135.88" y1="527.7" x2="135.88" y2="529.7" stroke="#1c1c1c" stroke-width="0.9"/>
<line x1="168.4" y1="527.7" x2="168.4" y2="529.7" stroke="#1c1c1c" stroke-width="0.9"/>
<line x1="137.79" y1="527.7" x2="137.79" y2="529.7" stroke="#1c1c1c" stroke-width="0.9"/>
<line x1="170.04" y1="527.7" x2="170.04" y2="529.7" stroke="#1c1c1c" stroke-width="0.9"/>
<line x1="181.13" y1="527.7" x2="181.13" y2="529.7" stroke="#1c1c1c" stroke-width="0.9"/>
<line x1="85.79" y1="527.7" x2="85.79" y2="529.7" stroke="#1c1c1c" stroke-width="0.9"/>
<line x1="72.39" y1="527.7" x2="72.39" y2="529.7" stroke="#1c1c1c" stroke-width="0.9"/>
<line x1="90.12" y1="527.7" x2="90.12" y2="529.7" stroke="#1c1c1c" stroke-width="0.9"/>
<line x1="68.17" y1="527.7" x2="68.17" y2="529.7" stroke="#1c1c1c" stroke-width="0.9"/>
<line x1="93.01" y1="527.7" x2="93.01" y2="529.7" stroke="#1c1c1c" stroke-width="0.9"/>
<line x1="65.35" y1="527.7" x2="65.35" y2="529.7" stroke="#1c1c1c" stroke-width="0.9"/>
<line x1="95.14" y1="527.7" x2="95.14" y2="529.7" stroke="#1c1c1c" stroke-width="0.9"/>
<line x1="63.28" y1="527.7" x2="63.28" y2="529.7" stroke="#1c1c1c" stroke-width="0.9"/>
<line x1="96.82" y1="527.7" x2="96.82" y2="529.7" stroke="#1c1c1c" stroke-width="0.9"/>
<line x1="61.65" y1="527.7" x2="61.65" y2="529.7" stroke="#1c1c1c" stroke-width="0.9"/>
<line x1="98.2" y1="527.7" x2="98.2" y2="529.7" stroke="#1c1c1c" stroke-width="0.9"/>
<line x1="60.3" y1="527.7" x2="60.3" y2="529.7" stroke="#1c1c1c" stroke-width="0.9"/>
<line x1="99.37" y1="527.7" x2="99.37" y2="529.7" stroke="#1c1c1c" stroke-width="0.9"/>
<line x1="59.16" y1="527.7" x2="59.16" y2="529.7" stroke="#1c1c1c" stroke-width="0.9"/>
<line x1="100.39" y1="527.7" x2="100.39" y2="529.7" stroke="#1c1c1c" stroke-width="0.9"/>
<line x1="58.16" y1="527.7" x2="58.16" y2="529.7" stroke="#1c1c1c" stroke-width="0.9"/>
<line x1="101.29" y1="527.7" x2="101.29" y2="529.7" stroke="#1c1c1c" stroke-width="0.9"/>
<line x1="57.29" y1="527.7" x2="57.29" y2="529.7" stroke="#1c1c1c" stroke-width="0.9"/>
<line x1="76" y1="527.7" x2="76" y2="530.3" stroke="#1c1c1c" stroke-width="0.9"/>
<line x1="76.8" y1="527.7" x2="76.8" y2="530.3" stroke="#1c1c1c" stroke-width="0.9"/>
<line x1="77.5" y1="527.7" x2="77.5" y2="530.3" stroke="#1c1c1c" stroke-width="0.9"/>
<line x1="78.2" y1="527.7" x2="78.2" y2="530.3" stroke="#1c1c1c" stroke-width="0.9"/>
<line x1="79.8" y1="527.7" x2="79.8" y2="530.3" stroke="#1c1c1c" stroke-width="0.9"/>
<line x1="80.5" y1="527.7" x2="80.5" y2="530.3" stroke="#1c1c1c" stroke-width="0.9"/>
<line x1="81.2" y1="527.7" x2="81.2" y2="530.3" stroke="#1c1c1c" stroke-width="0.9"/>
<line x1="82" y1="527.7" x2="82" y2="530.3" stroke="#1c1c1c" stroke-width="0.9"/>
<text x="56" y="540.2" font-size="8.3" text-anchor="middle" fill="#222">−10<tspan font-size="6.4" dy="-3.6" style="stroke-width:0.1px">3</tspan></text>
<text x="79" y="540.2" font-size="8.3" text-anchor="middle" font-weight="normal" fill="#222" >0</text>
<text x="102.3" y="540.2" font-size="8.3" text-anchor="middle" fill="#222">10<tspan font-size="6.4" dy="-3.6" style="stroke-width:0.1px">3</tspan></text>
<text x="139" y="540.2" font-size="8.3" text-anchor="middle" fill="#222">10<tspan font-size="6.4" dy="-3.6" style="stroke-width:0.1px">4</tspan></text>
<text x="171.7" y="540.2" font-size="8.3" text-anchor="middle" fill="#222">10<tspan font-size="6.4" dy="-3.6" style="stroke-width:0.1px">5</tspan></text>
<line x1="107.6" y1="425.9" x2="164.1" y2="425.9" stroke="#333" stroke-width="1.2"/>
<line x1="107.6" y1="423.4" x2="107.6" y2="428.4" stroke="#333" stroke-width="1.2"/>
<line x1="164.1" y1="423.4" x2="164.1" y2="428.4" stroke="#333" stroke-width="1.2"/>
<text x="135.8" y="422.4" font-size="8.2" text-anchor="middle" font-weight="normal" fill="#222" >54.0</text>
<text x="117.4" y="386.4" font-size="8.5" text-anchor="middle" font-weight="normal" fill="#222" >VIP-KO pDC</text>
<path d="M265.4,527.4 C267.6,527.1 276.17,525.95 278.6,525.6 C281.03,525.25 278.92,526.27 280,525.3 C281.08,524.33 283.53,521.57 285.1,519.8 C286.67,518.03 288.32,516.4 289.4,514.7 C290.48,513 290.9,510.82 291.6,509.6 C292.3,508.38 292.83,507.55 293.6,507.4 C294.37,507.25 295.2,508.33 296.2,508.7 C297.2,509.07 298.38,509.03 299.6,509.6 C300.82,510.17 302.23,512.75 303.5,512.1 C304.77,511.45 306.15,505.98 307.2,505.7 C308.25,505.42 308.8,508.9 309.8,510.4 C310.8,511.9 312.22,513.85 313.2,514.7 C314.18,515.55 314.42,515.93 315.7,515.5 C316.98,515.07 319.33,512.8 320.9,512.1 C322.47,511.4 323.97,511.87 325.1,511.3 C326.23,510.73 326.98,514.23 327.7,508.7 C328.42,503.17 328.7,490.87 329.4,478.1 C330.1,465.33 331.05,441.6 331.9,432.1 C332.75,422.6 333.7,420.25 334.5,421.1 C335.3,421.95 336,429.12 336.7,437.2 C337.4,445.28 338.08,457.97 338.7,469.6 C339.32,481.23 339.55,499.2 340.4,507 C341.25,514.8 342.28,513.48 343.8,516.4 C345.32,519.32 348.55,523.15 349.5,524.5 L349.5,527.7 L265.4,527.7 Z" fill="#86a6c4" stroke="none"/>
<path d="M265.4,527.4 C267.6,527.1 276.17,525.95 278.6,525.6 C281.03,525.25 278.92,526.27 280,525.3 C281.08,524.33 283.53,521.57 285.1,519.8 C286.67,518.03 288.32,516.4 289.4,514.7 C290.48,513 290.9,510.82 291.6,509.6 C292.3,508.38 292.83,507.55 293.6,507.4 C294.37,507.25 295.2,508.33 296.2,508.7 C297.2,509.07 298.38,509.03 299.6,509.6 C300.82,510.17 302.23,512.75 303.5,512.1 C304.77,511.45 306.15,505.98 307.2,505.7 C308.25,505.42 308.8,508.9 309.8,510.4 C310.8,511.9 312.22,513.85 313.2,514.7 C314.18,515.55 314.42,515.93 315.7,515.5 C316.98,515.07 319.33,512.8 320.9,512.1 C322.47,511.4 323.97,511.87 325.1,511.3 C326.23,510.73 326.98,514.23 327.7,508.7 C328.42,503.17 328.7,490.87 329.4,478.1 C330.1,465.33 331.05,441.6 331.9,432.1 C332.75,422.6 333.7,420.25 334.5,421.1 C335.3,421.95 336,429.12 336.7,437.2 C337.4,445.28 338.08,457.97 338.7,469.6 C339.32,481.23 339.55,499.2 340.4,507 C341.25,514.8 342.28,513.48 343.8,516.4 C345.32,519.32 348.55,523.15 349.5,524.5" fill="none" stroke="#1f5a8e" stroke-width="1.1" stroke-linejoin="round"/>
<path d="M213.5,527.7 L213.5,391.6 L350,391.6 L350,527.7 Z" fill="none" stroke="#1c1c1c" stroke-width="1.2"/>
<line x1="210.5" y1="527.7" x2="213.5" y2="527.7" stroke="#1c1c1c" stroke-width="1.0"/>
<text x="207.5" y="530.5" font-size="7.9" text-anchor="end" font-weight="normal" fill="#222" >0</text>
<line x1="211.5" y1="517.08" x2="213.5" y2="517.08" stroke="#1c1c1c" stroke-width="1.0"/>
<line x1="211.5" y1="506.45" x2="213.5" y2="506.45" stroke="#1c1c1c" stroke-width="1.0"/>
<line x1="211.5" y1="495.83" x2="213.5" y2="495.83" stroke="#1c1c1c" stroke-width="1.0"/>
<line x1="210.5" y1="485.2" x2="213.5" y2="485.2" stroke="#1c1c1c" stroke-width="1.0"/>
<text x="207.5" y="488" font-size="7.9" text-anchor="end" font-weight="normal" fill="#222" >10</text>
<line x1="211.5" y1="474.58" x2="213.5" y2="474.58" stroke="#1c1c1c" stroke-width="1.0"/>
<line x1="211.5" y1="463.95" x2="213.5" y2="463.95" stroke="#1c1c1c" stroke-width="1.0"/>
<line x1="211.5" y1="453.33" x2="213.5" y2="453.33" stroke="#1c1c1c" stroke-width="1.0"/>
<line x1="210.5" y1="442.7" x2="213.5" y2="442.7" stroke="#1c1c1c" stroke-width="1.0"/>
<text x="207.5" y="445.5" font-size="7.9" text-anchor="end" font-weight="normal" fill="#222" >20</text>
<line x1="211.5" y1="432.07" x2="213.5" y2="432.07" stroke="#1c1c1c" stroke-width="1.0"/>
<line x1="211.5" y1="421.45" x2="213.5" y2="421.45" stroke="#1c1c1c" stroke-width="1.0"/>
<line x1="211.5" y1="410.82" x2="213.5" y2="410.82" stroke="#1c1c1c" stroke-width="1.0"/>
<line x1="210.5" y1="400.2" x2="213.5" y2="400.2" stroke="#1c1c1c" stroke-width="1.0"/>
<text x="207.5" y="403" font-size="7.9" text-anchor="end" font-weight="normal" fill="#222" >30</text>
<line x1="221" y1="527.7" x2="221" y2="530.7" stroke="#1c1c1c" stroke-width="0.9"/>
<line x1="243.5" y1="527.7" x2="243.5" y2="530.7" stroke="#1c1c1c" stroke-width="0.9"/>
<line x1="266.6" y1="527.7" x2="266.6" y2="530.7" stroke="#1c1c1c" stroke-width="0.9"/>
<line x1="304" y1="527.7" x2="304" y2="530.7" stroke="#1c1c1c" stroke-width="0.9"/>
<line x1="336" y1="527.7" x2="336" y2="530.7" stroke="#1c1c1c" stroke-width="0.9"/>
<line x1="277.86" y1="527.7" x2="277.86" y2="529.7" stroke="#1c1c1c" stroke-width="0.9"/>
<line x1="313.63" y1="527.7" x2="313.63" y2="529.7" stroke="#1c1c1c" stroke-width="0.9"/>
<line x1="284.44" y1="527.7" x2="284.44" y2="529.7" stroke="#1c1c1c" stroke-width="0.9"/>
<line x1="319.27" y1="527.7" x2="319.27" y2="529.7" stroke="#1c1c1c" stroke-width="0.9"/>
<line x1="289.12" y1="527.7" x2="289.12" y2="529.7" stroke="#1c1c1c" stroke-width="0.9"/>
<line x1="323.27" y1="527.7" x2="323.27" y2="529.7" stroke="#1c1c1c" stroke-width="0.9"/>
<line x1="292.74" y1="527.7" x2="292.74" y2="529.7" stroke="#1c1c1c" stroke-width="0.9"/>
<line x1="326.37" y1="527.7" x2="326.37" y2="529.7" stroke="#1c1c1c" stroke-width="0.9"/>
<line x1="295.7" y1="527.7" x2="295.7" y2="529.7" stroke="#1c1c1c" stroke-width="0.9"/>
<line x1="328.9" y1="527.7" x2="328.9" y2="529.7" stroke="#1c1c1c" stroke-width="0.9"/>
<line x1="298.21" y1="527.7" x2="298.21" y2="529.7" stroke="#1c1c1c" stroke-width="0.9"/>
<line x1="331.04" y1="527.7" x2="331.04" y2="529.7" stroke="#1c1c1c" stroke-width="0.9"/>
<line x1="300.38" y1="527.7" x2="300.38" y2="529.7" stroke="#1c1c1c" stroke-width="0.9"/>
<line x1="332.9" y1="527.7" x2="332.9" y2="529.7" stroke="#1c1c1c" stroke-width="0.9"/>
<line x1="302.29" y1="527.7" x2="302.29" y2="529.7" stroke="#1c1c1c" stroke-width="0.9"/>
<line x1="334.54" y1="527.7" x2="334.54" y2="529.7" stroke="#1c1c1c" stroke-width="0.9"/>
<line x1="345.63" y1="527.7" x2="345.63" y2="529.7" stroke="#1c1c1c" stroke-width="0.9"/>
<line x1="250.29" y1="527.7" x2="250.29" y2="529.7" stroke="#1c1c1c" stroke-width="0.9"/>
<line x1="236.89" y1="527.7" x2="236.89" y2="529.7" stroke="#1c1c1c" stroke-width="0.9"/>
<line x1="254.62" y1="527.7" x2="254.62" y2="529.7" stroke="#1c1c1c" stroke-width="0.9"/>
<line x1="232.67" y1="527.7" x2="232.67" y2="529.7" stroke="#1c1c1c" stroke-width="0.9"/>
<line x1="257.51" y1="527.7" x2="257.51" y2="529.7" stroke="#1c1c1c" stroke-width="0.9"/>
<line x1="229.85" y1="527.7" x2="229.85" y2="529.7" stroke="#1c1c1c" stroke-width="0.9"/>
<line x1="259.64" y1="527.7" x2="259.64" y2="529.7" stroke="#1c1c1c" stroke-width="0.9"/>
<line x1="227.78" y1="527.7" x2="227.78" y2="529.7" stroke="#1c1c1c" stroke-width="0.9"/>
<line x1="261.32" y1="527.7" x2="261.32" y2="529.7" stroke="#1c1c1c" stroke-width="0.9"/>
<line x1="226.15" y1="527.7" x2="226.15" y2="529.7" stroke="#1c1c1c" stroke-width="0.9"/>
<line x1="262.7" y1="527.7" x2="262.7" y2="529.7" stroke="#1c1c1c" stroke-width="0.9"/>
<line x1="224.8" y1="527.7" x2="224.8" y2="529.7" stroke="#1c1c1c" stroke-width="0.9"/>
<line x1="263.87" y1="527.7" x2="263.87" y2="529.7" stroke="#1c1c1c" stroke-width="0.9"/>
<line x1="223.66" y1="527.7" x2="223.66" y2="529.7" stroke="#1c1c1c" stroke-width="0.9"/>
<line x1="264.89" y1="527.7" x2="264.89" y2="529.7" stroke="#1c1c1c" stroke-width="0.9"/>
<line x1="222.66" y1="527.7" x2="222.66" y2="529.7" stroke="#1c1c1c" stroke-width="0.9"/>
<line x1="265.79" y1="527.7" x2="265.79" y2="529.7" stroke="#1c1c1c" stroke-width="0.9"/>
<line x1="221.79" y1="527.7" x2="221.79" y2="529.7" stroke="#1c1c1c" stroke-width="0.9"/>
<line x1="240.5" y1="527.7" x2="240.5" y2="530.3" stroke="#1c1c1c" stroke-width="0.9"/>
<line x1="241.3" y1="527.7" x2="241.3" y2="530.3" stroke="#1c1c1c" stroke-width="0.9"/>
<line x1="242" y1="527.7" x2="242" y2="530.3" stroke="#1c1c1c" stroke-width="0.9"/>
<line x1="242.7" y1="527.7" x2="242.7" y2="530.3" stroke="#1c1c1c" stroke-width="0.9"/>
<line x1="244.3" y1="527.7" x2="244.3" y2="530.3" stroke="#1c1c1c" stroke-width="0.9"/>
<line x1="245" y1="527.7" x2="245" y2="530.3" stroke="#1c1c1c" stroke-width="0.9"/>
<line x1="245.7" y1="527.7" x2="245.7" y2="530.3" stroke="#1c1c1c" stroke-width="0.9"/>
<line x1="246.5" y1="527.7" x2="246.5" y2="530.3" stroke="#1c1c1c" stroke-width="0.9"/>
<text x="220.5" y="540.2" font-size="8.3" text-anchor="middle" fill="#222">−10<tspan font-size="6.4" dy="-3.6" style="stroke-width:0.1px">3</tspan></text>
<text x="243.5" y="540.2" font-size="8.3" text-anchor="middle" font-weight="normal" fill="#222" >0</text>
<text x="266.8" y="540.2" font-size="8.3" text-anchor="middle" fill="#222">10<tspan font-size="6.4" dy="-3.6" style="stroke-width:0.1px">3</tspan></text>
<text x="303.5" y="540.2" font-size="8.3" text-anchor="middle" fill="#222">10<tspan font-size="6.4" dy="-3.6" style="stroke-width:0.1px">4</tspan></text>
<text x="336.2" y="540.2" font-size="8.3" text-anchor="middle" fill="#222">10<tspan font-size="6.4" dy="-3.6" style="stroke-width:0.1px">5</tspan></text>
<line x1="271.3" y1="430.2" x2="327.3" y2="430.2" stroke="#333" stroke-width="1.2"/>
<line x1="271.3" y1="427.7" x2="271.3" y2="432.7" stroke="#333" stroke-width="1.2"/>
<line x1="327.3" y1="427.7" x2="327.3" y2="432.7" stroke="#333" stroke-width="1.2"/>
<text x="299.4" y="426.1" font-size="8.2" text-anchor="middle" font-weight="normal" fill="#222" >42.2</text>
<text x="281" y="386.4" font-size="8.5" text-anchor="middle" font-weight="normal" fill="#222" >WT pDC</text>
<path d="M430.4,527.4 C431.5,527.1 435.07,525.83 437,525.6 C438.93,525.37 440.32,526.13 442,526 C443.68,525.87 445.68,525.77 447.1,524.8 C448.52,523.83 449.37,520.85 450.5,520.2 C451.63,519.55 452.48,520.62 453.9,520.9 C455.32,521.18 457.3,522.52 459,521.9 C460.7,521.28 462.4,518.5 464.1,517.2 C465.8,515.9 467.7,513.6 469.2,514.1 C470.7,514.6 471.68,519.92 473.1,520.2 C474.52,520.48 476.22,516.82 477.7,515.8 C479.18,514.78 480.15,514.43 482,514.1 C483.85,513.77 487.25,515.27 488.8,513.8 C490.35,512.33 490.45,513.25 491.3,505.3 C492.15,497.35 493.1,478.58 493.9,466.1 C494.7,453.62 495.3,438.57 496.1,430.4 C496.9,422.23 497.93,415.97 498.7,417.1 C499.47,418.23 500,427.05 500.7,437.2 C501.4,447.35 502.2,466.08 502.9,478 C503.6,489.92 504,502.32 504.9,508.7 C505.8,515.08 507.15,514.32 508.3,516.3 C509.45,518.28 511.02,519.95 511.8,520.6 C512.58,521.25 512.8,520.27 513,520.2 L513,527.7 L430.4,527.7 Z" fill="#9dd9a4" stroke="none"/>
<path d="M430.4,527.4 C431.5,527.1 435.07,525.83 437,525.6 C438.93,525.37 440.32,526.13 442,526 C443.68,525.87 445.68,525.77 447.1,524.8 C448.52,523.83 449.37,520.85 450.5,520.2 C451.63,519.55 452.48,520.62 453.9,520.9 C455.32,521.18 457.3,522.52 459,521.9 C460.7,521.28 462.4,518.5 464.1,517.2 C465.8,515.9 467.7,513.6 469.2,514.1 C470.7,514.6 471.68,519.92 473.1,520.2 C474.52,520.48 476.22,516.82 477.7,515.8 C479.18,514.78 480.15,514.43 482,514.1 C483.85,513.77 487.25,515.27 488.8,513.8 C490.35,512.33 490.45,513.25 491.3,505.3 C492.15,497.35 493.1,478.58 493.9,466.1 C494.7,453.62 495.3,438.57 496.1,430.4 C496.9,422.23 497.93,415.97 498.7,417.1 C499.47,418.23 500,427.05 500.7,437.2 C501.4,447.35 502.2,466.08 502.9,478 C503.6,489.92 504,502.32 504.9,508.7 C505.8,515.08 507.15,514.32 508.3,516.3 C509.45,518.28 511.02,519.95 511.8,520.6 C512.58,521.25 512.8,520.27 513,520.2" fill="none" stroke="#48b955" stroke-width="1.1" stroke-linejoin="round"/>
<path d="M376.8,527.7 L376.8,391.6 L513.2,391.6 L513.2,527.7 Z" fill="none" stroke="#1c1c1c" stroke-width="1.2"/>
<line x1="373.8" y1="527.7" x2="376.8" y2="527.7" stroke="#1c1c1c" stroke-width="1.0"/>
<text x="370.8" y="530.5" font-size="7.9" text-anchor="end" font-weight="normal" fill="#222" >0</text>
<line x1="374.8" y1="520.14" x2="376.8" y2="520.14" stroke="#1c1c1c" stroke-width="1.0"/>
<line x1="374.8" y1="512.58" x2="376.8" y2="512.58" stroke="#1c1c1c" stroke-width="1.0"/>
<line x1="374.8" y1="505.01" x2="376.8" y2="505.01" stroke="#1c1c1c" stroke-width="1.0"/>
<line x1="373.8" y1="497.45" x2="376.8" y2="497.45" stroke="#1c1c1c" stroke-width="1.0"/>
<text x="370.8" y="500.25" font-size="7.9" text-anchor="end" font-weight="normal" fill="#222" >10</text>
<line x1="374.8" y1="489.89" x2="376.8" y2="489.89" stroke="#1c1c1c" stroke-width="1.0"/>
<line x1="374.8" y1="482.33" x2="376.8" y2="482.33" stroke="#1c1c1c" stroke-width="1.0"/>
<line x1="374.8" y1="474.76" x2="376.8" y2="474.76" stroke="#1c1c1c" stroke-width="1.0"/>
<line x1="373.8" y1="467.2" x2="376.8" y2="467.2" stroke="#1c1c1c" stroke-width="1.0"/>
<text x="370.8" y="470" font-size="7.9" text-anchor="end" font-weight="normal" fill="#222" >20</text>
<line x1="374.8" y1="459.64" x2="376.8" y2="459.64" stroke="#1c1c1c" stroke-width="1.0"/>
<line x1="374.8" y1="452.08" x2="376.8" y2="452.08" stroke="#1c1c1c" stroke-width="1.0"/>
<line x1="374.8" y1="444.51" x2="376.8" y2="444.51" stroke="#1c1c1c" stroke-width="1.0"/>
<line x1="373.8" y1="436.95" x2="376.8" y2="436.95" stroke="#1c1c1c" stroke-width="1.0"/>
<text x="370.8" y="439.75" font-size="7.9" text-anchor="end" font-weight="normal" fill="#222" >30</text>
<line x1="374.8" y1="429.39" x2="376.8" y2="429.39" stroke="#1c1c1c" stroke-width="1.0"/>
<line x1="374.8" y1="421.82" x2="376.8" y2="421.82" stroke="#1c1c1c" stroke-width="1.0"/>
<line x1="374.8" y1="414.26" x2="376.8" y2="414.26" stroke="#1c1c1c" stroke-width="1.0"/>
<line x1="373.8" y1="406.7" x2="376.8" y2="406.7" stroke="#1c1c1c" stroke-width="1.0"/>
<text x="370.8" y="409.5" font-size="7.9" text-anchor="end" font-weight="normal" fill="#222" >40</text>
<line x1="374.8" y1="399.14" x2="376.8" y2="399.14" stroke="#1c1c1c" stroke-width="1.0"/>
<line x1="374.8" y1="391.57" x2="376.8" y2="391.57" stroke="#1c1c1c" stroke-width="1.0"/>
<line x1="384.3" y1="527.7" x2="384.3" y2="530.7" stroke="#1c1c1c" stroke-width="0.9"/>
<line x1="406.8" y1="527.7" x2="406.8" y2="530.7" stroke="#1c1c1c" stroke-width="0.9"/>
<line x1="429.9" y1="527.7" x2="429.9" y2="530.7" stroke="#1c1c1c" stroke-width="0.9"/>
<line x1="467.3" y1="527.7" x2="467.3" y2="530.7" stroke="#1c1c1c" stroke-width="0.9"/>
<line x1="499.3" y1="527.7" x2="499.3" y2="530.7" stroke="#1c1c1c" stroke-width="0.9"/>
<line x1="441.16" y1="527.7" x2="441.16" y2="529.7" stroke="#1c1c1c" stroke-width="0.9"/>
<line x1="476.93" y1="527.7" x2="476.93" y2="529.7" stroke="#1c1c1c" stroke-width="0.9"/>
<line x1="447.74" y1="527.7" x2="447.74" y2="529.7" stroke="#1c1c1c" stroke-width="0.9"/>
<line x1="482.57" y1="527.7" x2="482.57" y2="529.7" stroke="#1c1c1c" stroke-width="0.9"/>
<line x1="452.42" y1="527.7" x2="452.42" y2="529.7" stroke="#1c1c1c" stroke-width="0.9"/>
<line x1="486.57" y1="527.7" x2="486.57" y2="529.7" stroke="#1c1c1c" stroke-width="0.9"/>
<line x1="456.04" y1="527.7" x2="456.04" y2="529.7" stroke="#1c1c1c" stroke-width="0.9"/>
<line x1="489.67" y1="527.7" x2="489.67" y2="529.7" stroke="#1c1c1c" stroke-width="0.9"/>
<line x1="459" y1="527.7" x2="459" y2="529.7" stroke="#1c1c1c" stroke-width="0.9"/>
<line x1="492.2" y1="527.7" x2="492.2" y2="529.7" stroke="#1c1c1c" stroke-width="0.9"/>
<line x1="461.51" y1="527.7" x2="461.51" y2="529.7" stroke="#1c1c1c" stroke-width="0.9"/>
<line x1="494.34" y1="527.7" x2="494.34" y2="529.7" stroke="#1c1c1c" stroke-width="0.9"/>
<line x1="463.68" y1="527.7" x2="463.68" y2="529.7" stroke="#1c1c1c" stroke-width="0.9"/>
<line x1="496.2" y1="527.7" x2="496.2" y2="529.7" stroke="#1c1c1c" stroke-width="0.9"/>
<line x1="465.59" y1="527.7" x2="465.59" y2="529.7" stroke="#1c1c1c" stroke-width="0.9"/>
<line x1="497.84" y1="527.7" x2="497.84" y2="529.7" stroke="#1c1c1c" stroke-width="0.9"/>
<line x1="508.93" y1="527.7" x2="508.93" y2="529.7" stroke="#1c1c1c" stroke-width="0.9"/>
<line x1="413.59" y1="527.7" x2="413.59" y2="529.7" stroke="#1c1c1c" stroke-width="0.9"/>
<line x1="400.19" y1="527.7" x2="400.19" y2="529.7" stroke="#1c1c1c" stroke-width="0.9"/>
<line x1="417.92" y1="527.7" x2="417.92" y2="529.7" stroke="#1c1c1c" stroke-width="0.9"/>
<line x1="395.97" y1="527.7" x2="395.97" y2="529.7" stroke="#1c1c1c" stroke-width="0.9"/>
<line x1="420.81" y1="527.7" x2="420.81" y2="529.7" stroke="#1c1c1c" stroke-width="0.9"/>
<line x1="393.15" y1="527.7" x2="393.15" y2="529.7" stroke="#1c1c1c" stroke-width="0.9"/>
<line x1="422.94" y1="527.7" x2="422.94" y2="529.7" stroke="#1c1c1c" stroke-width="0.9"/>
<line x1="391.08" y1="527.7" x2="391.08" y2="529.7" stroke="#1c1c1c" stroke-width="0.9"/>
<line x1="424.62" y1="527.7" x2="424.62" y2="529.7" stroke="#1c1c1c" stroke-width="0.9"/>
<line x1="389.45" y1="527.7" x2="389.45" y2="529.7" stroke="#1c1c1c" stroke-width="0.9"/>
<line x1="426" y1="527.7" x2="426" y2="529.7" stroke="#1c1c1c" stroke-width="0.9"/>
<line x1="388.1" y1="527.7" x2="388.1" y2="529.7" stroke="#1c1c1c" stroke-width="0.9"/>
<line x1="427.17" y1="527.7" x2="427.17" y2="529.7" stroke="#1c1c1c" stroke-width="0.9"/>
<line x1="386.96" y1="527.7" x2="386.96" y2="529.7" stroke="#1c1c1c" stroke-width="0.9"/>
<line x1="428.19" y1="527.7" x2="428.19" y2="529.7" stroke="#1c1c1c" stroke-width="0.9"/>
<line x1="385.96" y1="527.7" x2="385.96" y2="529.7" stroke="#1c1c1c" stroke-width="0.9"/>
<line x1="429.09" y1="527.7" x2="429.09" y2="529.7" stroke="#1c1c1c" stroke-width="0.9"/>
<line x1="385.09" y1="527.7" x2="385.09" y2="529.7" stroke="#1c1c1c" stroke-width="0.9"/>
<line x1="403.8" y1="527.7" x2="403.8" y2="530.3" stroke="#1c1c1c" stroke-width="0.9"/>
<line x1="404.6" y1="527.7" x2="404.6" y2="530.3" stroke="#1c1c1c" stroke-width="0.9"/>
<line x1="405.3" y1="527.7" x2="405.3" y2="530.3" stroke="#1c1c1c" stroke-width="0.9"/>
<line x1="406" y1="527.7" x2="406" y2="530.3" stroke="#1c1c1c" stroke-width="0.9"/>
<line x1="407.6" y1="527.7" x2="407.6" y2="530.3" stroke="#1c1c1c" stroke-width="0.9"/>
<line x1="408.3" y1="527.7" x2="408.3" y2="530.3" stroke="#1c1c1c" stroke-width="0.9"/>
<line x1="409" y1="527.7" x2="409" y2="530.3" stroke="#1c1c1c" stroke-width="0.9"/>
<line x1="409.8" y1="527.7" x2="409.8" y2="530.3" stroke="#1c1c1c" stroke-width="0.9"/>
<text x="383.8" y="540.2" font-size="8.3" text-anchor="middle" fill="#222">−10<tspan font-size="6.4" dy="-3.6" style="stroke-width:0.1px">3</tspan></text>
<text x="406.8" y="540.2" font-size="8.3" text-anchor="middle" font-weight="normal" fill="#222" >0</text>
<text x="430.1" y="540.2" font-size="8.3" text-anchor="middle" fill="#222">10<tspan font-size="6.4" dy="-3.6" style="stroke-width:0.1px">3</tspan></text>
<text x="466.8" y="540.2" font-size="8.3" text-anchor="middle" fill="#222">10<tspan font-size="6.4" dy="-3.6" style="stroke-width:0.1px">4</tspan></text>
<text x="499.5" y="540.2" font-size="8.3" text-anchor="middle" fill="#222">10<tspan font-size="6.4" dy="-3.6" style="stroke-width:0.1px">5</tspan></text>
<line x1="433.7" y1="430.2" x2="490.1" y2="430.2" stroke="#333" stroke-width="1.2"/>
<line x1="433.7" y1="427.7" x2="433.7" y2="432.7" stroke="#333" stroke-width="1.2"/>
<line x1="490.1" y1="427.7" x2="490.1" y2="432.7" stroke="#333" stroke-width="1.2"/>
<text x="461.9" y="426.1" font-size="8.2" text-anchor="middle" font-weight="normal" fill="#222" >32.2</text>
<text x="444.4" y="386.4" font-size="8.9" text-anchor="middle" font-weight="normal" fill="#222" >No pDC</text>
<rect x="115" y="623.8" width="26.9" height="61.4" fill="#e3899a"/>
<rect x="158" y="636.2" width="26.7" height="49" fill="#88a8c6"/>
<rect x="200.5" y="649" width="26.7" height="36.2" fill="#9dd9a4"/>
<line x1="128.5" y1="616.8" x2="128.5" y2="629.1" stroke="#222" stroke-width="1.1"/>
<line x1="121.9" y1="616.8" x2="135.8" y2="616.8" stroke="#222" stroke-width="1.1"/>
<line x1="121.9" y1="629.1" x2="135.8" y2="629.1" stroke="#222" stroke-width="1.1"/>
<circle cx="128.5" cy="610.4" r="1.6" fill="#c80a2e"/>
<circle cx="116.5" cy="619.4" r="1.6" fill="#c80a2e"/>
<circle cx="124.6" cy="621.4" r="1.6" fill="#c80a2e"/>
<circle cx="132.7" cy="618.8" r="1.6" fill="#c80a2e"/>
<circle cx="140.9" cy="621.9" r="1.6" fill="#c80a2e"/>
<circle cx="116.5" cy="624.5" r="1.6" fill="#c80a2e"/>
<circle cx="132.7" cy="625" r="1.6" fill="#c80a2e"/>
<circle cx="124.6" cy="626.9" r="1.6" fill="#c80a2e"/>
<circle cx="132.7" cy="629.4" r="1.6" fill="#c80a2e"/>
<circle cx="124.6" cy="632.3" r="1.6" fill="#c80a2e"/>
<line x1="171.4" y1="625" x2="171.4" y2="645.5" stroke="#222" stroke-width="1.1"/>
<line x1="164.2" y1="625" x2="178" y2="625" stroke="#222" stroke-width="1.1"/>
<line x1="164.2" y1="645.5" x2="178" y2="645.5" stroke="#222" stroke-width="1.1"/>
<circle cx="167.5" cy="622.1" r="1.6" fill="#00427e"/>
<circle cx="174.9" cy="624.8" r="1.6" fill="#00427e"/>
<circle cx="174.9" cy="635.2" r="1.6" fill="#00427e"/>
<circle cx="167.5" cy="638.8" r="1.6" fill="#00427e"/>
<circle cx="174.9" cy="640" r="1.6" fill="#00427e"/>
<circle cx="171.4" cy="649.6" r="1.6" fill="#00427e"/>
<line x1="213.7" y1="634.5" x2="213.7" y2="661.1" stroke="#222" stroke-width="1.1"/>
<line x1="206.9" y1="634.5" x2="220.7" y2="634.5" stroke="#222" stroke-width="1.1"/>
<line x1="206.9" y1="661.1" x2="220.7" y2="661.1" stroke="#222" stroke-width="1.1"/>
<circle cx="213.7" cy="622.3" r="1.6" fill="#1fae3c"/>
<circle cx="201.6" cy="643.2" r="1.6" fill="#1fae3c"/>
<circle cx="207.6" cy="647.2" r="1.6" fill="#1fae3c"/>
<circle cx="213.7" cy="643.9" r="1.6" fill="#1fae3c"/>
<circle cx="219.9" cy="640.4" r="1.6" fill="#1fae3c"/>
<circle cx="219.9" cy="644.3" r="1.6" fill="#1fae3c"/>
<circle cx="226.1" cy="644.3" r="1.6" fill="#1fae3c"/>
<circle cx="210.5" cy="658.9" r="1.6" fill="#1fae3c"/>
<circle cx="216.7" cy="661.9" r="1.6" fill="#1fae3c"/>
<circle cx="213.7" cy="669.6" r="1.6" fill="#1fae3c"/>
<path d="M100.7,586.5 L100.7,685.2 L241.5,685.2" fill="none" stroke="#1c1c1c" stroke-width="1.2"/>
<line x1="97.5" y1="685.2" x2="100.7" y2="685.2" stroke="#1c1c1c" stroke-width="1.0"/>
<text x="95.3" y="688.2" font-size="8.4" text-anchor="end" font-weight="normal" fill="#222" >0</text>
<line x1="97.5" y1="661.6" x2="100.7" y2="661.6" stroke="#1c1c1c" stroke-width="1.0"/>
<text x="95.3" y="664.6" font-size="8.4" text-anchor="end" font-weight="normal" fill="#222" >20</text>
<line x1="97.5" y1="637.9" x2="100.7" y2="637.9" stroke="#1c1c1c" stroke-width="1.0"/>
<text x="95.3" y="640.9" font-size="8.4" text-anchor="end" font-weight="normal" fill="#222" >40</text>
<line x1="97.5" y1="614.3" x2="100.7" y2="614.3" stroke="#1c1c1c" stroke-width="1.0"/>
<text x="95.3" y="617.3" font-size="8.4" text-anchor="end" font-weight="normal" fill="#222" >60</text>
<line x1="97.5" y1="590.6" x2="100.7" y2="590.6" stroke="#1c1c1c" stroke-width="1.0"/>
<text x="95.3" y="593.6" font-size="8.4" text-anchor="end" font-weight="normal" fill="#222" >80</text>
<line x1="128.5" y1="685.2" x2="128.5" y2="688.2" stroke="#1c1c1c" stroke-width="1.0"/>
<line x1="171.4" y1="685.2" x2="171.4" y2="688.2" stroke="#1c1c1c" stroke-width="1.0"/>
<line x1="213.7" y1="685.2" x2="213.7" y2="688.2" stroke="#1c1c1c" stroke-width="1.0"/>
<text x="128.5" y="698.2" font-size="8.1" text-anchor="middle" font-weight="normal" fill="#222" >VIP-KO pDC</text>
<text x="171.4" y="698.2" font-size="8.1" text-anchor="middle" font-weight="normal" fill="#222" >WT pDC</text>
<text x="213.7" y="698.2" font-size="8.1" text-anchor="middle" font-weight="normal" fill="#222" >No pDC</text>
<line x1="128.5" y1="579.2" x2="217.7" y2="579.2" stroke="#333" stroke-width="1.1"/>
<line x1="128.5" y1="576.7" x2="128.5" y2="581.7" stroke="#333" stroke-width="1.1"/>
<line x1="217.7" y1="576.7" x2="217.7" y2="581.7" stroke="#333" stroke-width="1.1"/>
<path d="M167.3,572.45 L167.9,573.67 L169.25,573.87 L168.27,574.82 L168.5,576.16 L167.3,575.52 L166.1,576.16 L166.33,574.82 L165.35,573.87 L166.7,573.67 Z" fill="#1a1a1a" stroke="#1a1a1a" stroke-width="0.6" stroke-linejoin="round"/>
<path d="M171.5,572.45 L172.1,573.67 L173.45,573.87 L172.47,574.82 L172.7,576.16 L171.5,575.52 L170.3,576.16 L170.53,574.82 L169.55,573.87 L170.9,573.67 Z" fill="#1a1a1a" stroke="#1a1a1a" stroke-width="0.6" stroke-linejoin="round"/>
<path d="M175.7,572.45 L176.3,573.67 L177.65,573.87 L176.67,574.82 L176.9,576.16 L175.7,575.52 L174.5,576.16 L174.73,574.82 L173.75,573.87 L175.1,573.67 Z" fill="#1a1a1a" stroke="#1a1a1a" stroke-width="0.6" stroke-linejoin="round"/>
<path d="M179.9,572.45 L180.5,573.67 L181.85,573.87 L180.87,574.82 L181.1,576.16 L179.9,575.52 L178.7,576.16 L178.93,574.82 L177.95,573.87 L179.3,573.67 Z" fill="#1a1a1a" stroke="#1a1a1a" stroke-width="0.6" stroke-linejoin="round"/>
<line x1="128.5" y1="591.4" x2="174.4" y2="591.4" stroke="#333" stroke-width="1.1"/>
<line x1="128.5" y1="588.9" x2="128.5" y2="593.9" stroke="#333" stroke-width="1.1"/>
<line x1="174.4" y1="588.9" x2="174.4" y2="593.9" stroke="#333" stroke-width="1.1"/>
<path d="M149.6,584.65 L150.2,585.87 L151.55,586.07 L150.57,587.02 L150.8,588.36 L149.6,587.72 L148.4,588.36 L148.63,587.02 L147.65,586.07 L149,585.87 Z" fill="#1a1a1a" stroke="#1a1a1a" stroke-width="0.6" stroke-linejoin="round"/>
<path d="M153.8,584.65 L154.4,585.87 L155.75,586.07 L154.77,587.02 L155,588.36 L153.8,587.72 L152.6,588.36 L152.83,587.02 L151.85,586.07 L153.2,585.87 Z" fill="#1a1a1a" stroke="#1a1a1a" stroke-width="0.6" stroke-linejoin="round"/>
<text x="0" y="0" font-size="9.5" text-anchor="middle" fill="#222" textLength="55.4" lengthAdjust="spacingAndGlyphs" transform="translate(81.2,639.3) rotate(-90)">Proliferated cells</text>
<rect x="322.1" y="631.2" width="26.7" height="54" fill="#e3899a"/>
<rect x="364.9" y="639.6" width="26.3" height="45.6" fill="#88a8c6"/>
<rect x="406.9" y="655.6" width="27" height="29.6" fill="#9dd9a4"/>
<line x1="335.4" y1="620.4" x2="335.4" y2="639.8" stroke="#222" stroke-width="1.1"/>
<line x1="328.7" y1="620.4" x2="342.3" y2="620.4" stroke="#222" stroke-width="1.1"/>
<line x1="328.7" y1="639.8" x2="342.3" y2="639.8" stroke="#222" stroke-width="1.1"/>
<circle cx="335.4" cy="608.6" r="1.6" fill="#c80a2e"/>
<circle cx="323.3" cy="625.2" r="1.6" fill="#c80a2e"/>
<circle cx="331.4" cy="624.1" r="1.6" fill="#c80a2e"/>
<circle cx="339.5" cy="626.4" r="1.6" fill="#c80a2e"/>
<circle cx="331.4" cy="629.8" r="1.6" fill="#c80a2e"/>
<circle cx="323.3" cy="633.4" r="1.6" fill="#c80a2e"/>
<circle cx="331.4" cy="636.8" r="1.6" fill="#c80a2e"/>
<circle cx="339.5" cy="639" r="1.6" fill="#c80a2e"/>
<circle cx="347.7" cy="638" r="1.6" fill="#c80a2e"/>
<circle cx="323.3" cy="640" r="1.6" fill="#c80a2e"/>
<line x1="378.2" y1="635.5" x2="378.2" y2="641.5" stroke="#222" stroke-width="1.1"/>
<line x1="371.1" y1="635.5" x2="384.9" y2="635.5" stroke="#222" stroke-width="1.1"/>
<line x1="371.1" y1="641.5" x2="384.9" y2="641.5" stroke="#222" stroke-width="1.1"/>
<circle cx="373.8" cy="633.1" r="1.6" fill="#00427e"/>
<circle cx="365.7" cy="636.9" r="1.6" fill="#00427e"/>
<circle cx="373.8" cy="639.1" r="1.6" fill="#00427e"/>
<circle cx="365.7" cy="641.5" r="1.6" fill="#00427e"/>
<circle cx="382" cy="640.2" r="1.6" fill="#00427e"/>
<circle cx="390.2" cy="640.4" r="1.6" fill="#00427e"/>
<line x1="420.3" y1="640.3" x2="420.3" y2="669.4" stroke="#222" stroke-width="1.1"/>
<line x1="413.4" y1="640.3" x2="427.2" y2="640.3" stroke="#222" stroke-width="1.1"/>
<line x1="413.4" y1="669.4" x2="427.2" y2="669.4" stroke="#222" stroke-width="1.1"/>
<circle cx="420.3" cy="627.4" r="1.6" fill="#1fae3c"/>
<circle cx="420.3" cy="637.9" r="1.6" fill="#1fae3c"/>
<circle cx="420.3" cy="645.2" r="1.6" fill="#1fae3c"/>
<circle cx="420.3" cy="653.2" r="1.6" fill="#1fae3c"/>
<circle cx="424.4" cy="657.9" r="1.6" fill="#1fae3c"/>
<circle cx="408.3" cy="659.4" r="1.6" fill="#1fae3c"/>
<circle cx="416.1" cy="661.5" r="1.6" fill="#1fae3c"/>
<circle cx="432.4" cy="661.5" r="1.6" fill="#1fae3c"/>
<circle cx="424.4" cy="665.2" r="1.6" fill="#1fae3c"/>
<circle cx="420.3" cy="678.1" r="1.6" fill="#1fae3c"/>
<path d="M307.4,586.5 L307.4,685.2 L448.3,685.2" fill="none" stroke="#1c1c1c" stroke-width="1.2"/>
<line x1="304.2" y1="685.2" x2="307.4" y2="685.2" stroke="#1c1c1c" stroke-width="1.0"/>
<text x="302" y="688.2" font-size="8.4" text-anchor="end" font-weight="normal" fill="#222" >1.2</text>
<line x1="304.2" y1="661.6" x2="307.4" y2="661.6" stroke="#1c1c1c" stroke-width="1.0"/>
<text x="302" y="664.6" font-size="8.4" text-anchor="end" font-weight="normal" fill="#222" >1.4</text>
<line x1="304.2" y1="637.9" x2="307.4" y2="637.9" stroke="#1c1c1c" stroke-width="1.0"/>
<text x="302" y="640.9" font-size="8.4" text-anchor="end" font-weight="normal" fill="#222" >1.6</text>
<line x1="304.2" y1="614.3" x2="307.4" y2="614.3" stroke="#1c1c1c" stroke-width="1.0"/>
<text x="302" y="617.3" font-size="8.4" text-anchor="end" font-weight="normal" fill="#222" >1.8</text>
<line x1="304.2" y1="590.6" x2="307.4" y2="590.6" stroke="#1c1c1c" stroke-width="1.0"/>
<text x="302" y="593.6" font-size="8.4" text-anchor="end" font-weight="normal" fill="#222" >2.0</text>
<line x1="335.4" y1="685.2" x2="335.4" y2="688.2" stroke="#1c1c1c" stroke-width="1.0"/>
<line x1="378.2" y1="685.2" x2="378.2" y2="688.2" stroke="#1c1c1c" stroke-width="1.0"/>
<line x1="420.3" y1="685.2" x2="420.3" y2="688.2" stroke="#1c1c1c" stroke-width="1.0"/>
<text x="335.4" y="698.2" font-size="8.1" text-anchor="middle" font-weight="normal" fill="#222" >VIP-KO pDC</text>
<text x="378.2" y="698.2" font-size="8.1" text-anchor="middle" font-weight="normal" fill="#222" >WT pDC</text>
<text x="420.3" y="698.2" font-size="8.1" text-anchor="middle" font-weight="normal" fill="#222" >No pDC</text>
<line x1="333.9" y1="579.2" x2="422.7" y2="579.2" stroke="#333" stroke-width="1.1"/>
<line x1="333.9" y1="576.7" x2="333.9" y2="581.7" stroke="#333" stroke-width="1.1"/>
<line x1="422.7" y1="576.7" x2="422.7" y2="581.7" stroke="#333" stroke-width="1.1"/>
<path d="M374.1,572.45 L374.7,573.67 L376.05,573.87 L375.07,574.82 L375.3,576.16 L374.1,575.52 L372.9,576.16 L373.13,574.82 L372.15,573.87 L373.5,573.67 Z" fill="#1a1a1a" stroke="#1a1a1a" stroke-width="0.6" stroke-linejoin="round"/>
<path d="M378.3,572.45 L378.9,573.67 L380.25,573.87 L379.27,574.82 L379.5,576.16 L378.3,575.52 L377.1,576.16 L377.33,574.82 L376.35,573.87 L377.7,573.67 Z" fill="#1a1a1a" stroke="#1a1a1a" stroke-width="0.6" stroke-linejoin="round"/>
<path d="M382.5,572.45 L383.1,573.67 L384.45,573.87 L383.47,574.82 L383.7,576.16 L382.5,575.52 L381.3,576.16 L381.53,574.82 L380.55,573.87 L381.9,573.67 Z" fill="#1a1a1a" stroke="#1a1a1a" stroke-width="0.6" stroke-linejoin="round"/>
<line x1="379.4" y1="591.4" x2="422.7" y2="591.4" stroke="#333" stroke-width="1.1"/>
<line x1="379.4" y1="588.9" x2="379.4" y2="593.9" stroke="#333" stroke-width="1.1"/>
<line x1="422.7" y1="588.9" x2="422.7" y2="593.9" stroke="#333" stroke-width="1.1"/>
<path d="M400.5,584.65 L401.1,585.87 L402.45,586.07 L401.47,587.02 L401.7,588.36 L400.5,587.72 L399.3,588.36 L399.53,587.02 L398.55,586.07 L399.9,585.87 Z" fill="#1a1a1a" stroke="#1a1a1a" stroke-width="0.6" stroke-linejoin="round"/>
<text x="0" y="0" font-size="9.5" text-anchor="middle" fill="#222" textLength="61.4" lengthAdjust="spacingAndGlyphs" transform="translate(285.8,639.7) rotate(-90)">Proliferation index</text>
</svg></body></html>
